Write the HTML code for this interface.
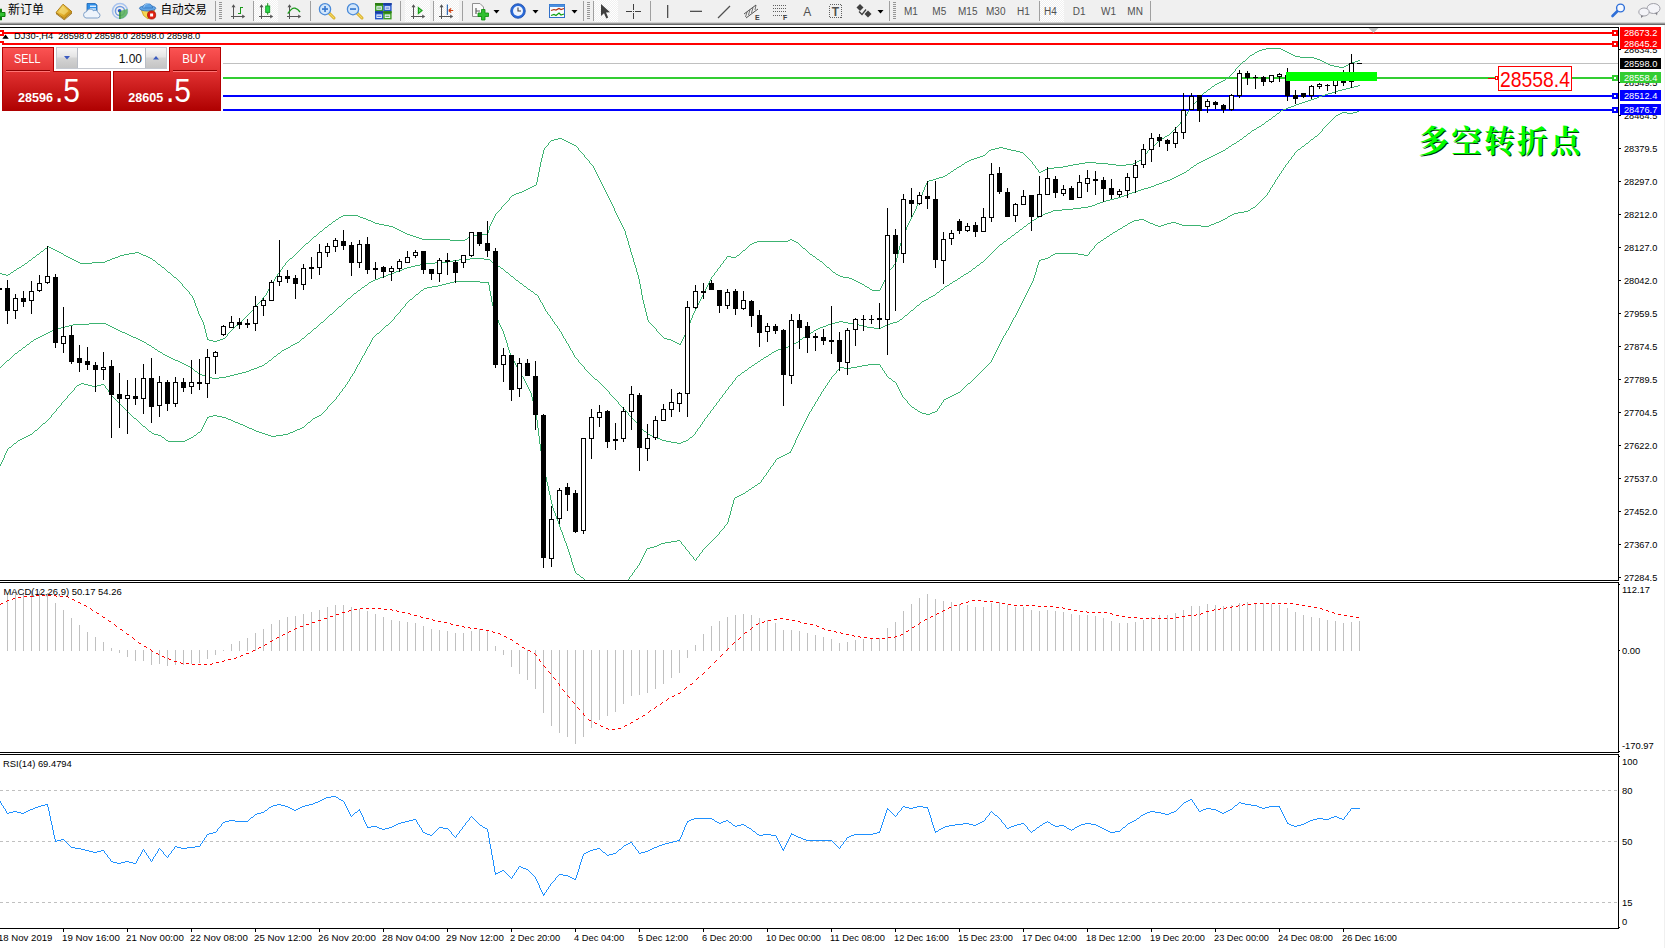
<!DOCTYPE html>
<html><head><meta charset="utf-8"><title>DJ30-,H4</title>
<style>
html,body{margin:0;padding:0;background:#fff;width:1665px;height:948px;overflow:hidden}
body{font-family:"Liberation Sans","Noto Sans CJK SC",sans-serif}
</style></head><body>
<svg width="1665" height="948" viewBox="0 0 1665 948" style="position:absolute;left:0;top:0">
<defs>
<clipPath id="cm"><rect x="0" y="28" width="1618" height="552"/></clipPath>
<clipPath id="cmacd"><rect x="0" y="583" width="1618" height="169"/></clipPath>
<clipPath id="crsi"><rect x="0" y="755" width="1618" height="173"/></clipPath>
<linearGradient id="gred" x1="0" y1="0" x2="0" y2="1"><stop offset="0" stop-color="#f65252"/><stop offset="0.38" stop-color="#dc2c2c"/><stop offset="1" stop-color="#b00000"/></linearGradient>
<linearGradient id="gbtn" x1="0" y1="0" x2="0" y2="1"><stop offset="0" stop-color="#f4f4f4"/><stop offset="0.5" stop-color="#dcdcdc"/><stop offset="1" stop-color="#c8c8c8"/></linearGradient>
<linearGradient id="gtb" x1="0" y1="0" x2="0" y2="1"><stop offset="0" stop-color="#f0f0f0"/><stop offset="0.4" stop-color="#a8a8a8"/><stop offset="0.8" stop-color="#686868"/><stop offset="1" stop-color="#686868"/></linearGradient>
<pattern id="hatch" width="2" height="2" patternUnits="userSpaceOnUse"><rect width="2" height="2" fill="#f0f0f0"/><rect width="1" height="1" fill="#ffffff"/><rect x="1" y="1" width="1" height="1" fill="#ffffff"/></pattern>
</defs>
<rect x="0" y="0" width="1665" height="948" fill="#ffffff" />
<g id="toolbar">
<rect x="0" y="0" width="1665" height="22" fill="#f0f0f0" />
<rect x="0" y="22" width="1665" height="3" fill="url(#gtb)" />
<path d="M-3 12.5 H0.5 V9 H1.5 V12.5 H5 V16.5 H1.5 V20 H0.5 V16.5 H-3 Z" fill="#2fc02f" stroke="#0a7a0a" stroke-width="1"/>
<text x="8" y="14.2" font-family="Liberation Sans, Noto Sans CJK SC, sans-serif" font-size="12" fill="#000">新订单</text>
<defs><linearGradient id="ggold" x1="0" y1="0" x2="1" y2="1"><stop offset="0" stop-color="#f8e27a"/><stop offset="0.55" stop-color="#e2ae2a"/><stop offset="1" stop-color="#b47c08"/></linearGradient></defs>
<g><path d="M56 12.6 L64.3 18.9 L72 12 L72 13.6 L64.3 20.3 L56 14 Z" fill="#8a5c06"/><path d="M56.6 13.3 L64.3 19.2 L71.6 12.8" stroke="#f0d890" stroke-width="0.7" fill="none"/><polygon points="63,4.2 72,11.8 64.3,18.7 56,12.5" fill="url(#ggold)" stroke="#a87408" stroke-width="0.9"/><polygon points="62.8,6 68.5,11 64,15 58.6,12" fill="#f9e78c" opacity="0.55"/></g>
<g><path d="M87 3.5 L95 3.5 L97 5 L97 12 L87 12 Z" fill="#2f8fe8" stroke="#1b62b0" stroke-width="0.8"/><rect x="90" y="5.5" width="6" height="1.5" fill="#d8ecff"/><rect x="90" y="8.3" width="6" height="1.5" fill="#d8ecff"/><path d="M86 18 a3.2 3.2 0 0 1 0.5 -6.3 a4 4 0 0 1 7 -1 a3 3 0 0 1 4.5 2 a2.7 2.7 0 0 1 -0.5 5.3 Z" fill="#eef4fb" stroke="#7fa0c8" stroke-width="1"/></g>
<g fill="none"><circle cx="120" cy="11" r="7.5" stroke="#a9c4ee" stroke-width="1.6"/><circle cx="120" cy="11" r="4.6" stroke="#6f9be0" stroke-width="1.5"/><path d="M120 11 L120 19 A8 8 0 0 0 127.5 9" fill="#58b058" stroke="none" opacity="0.85"/><circle cx="119.6" cy="10.8" r="1.8" fill="#2a55c8" stroke="none"/><rect x="119.2" y="11" width="1.3" height="8" fill="#2a8a2a" stroke="none"/></g>
<g><path d="M141.2 9.5 L154.6 9.5 L153.2 14 L148 19 L143.6 15.5 Z" fill="#f5d652" stroke="#c89a10" stroke-width="0.8"/><ellipse cx="147.6" cy="8.3" rx="8.2" ry="2.7" fill="#62a6e6" stroke="#2f6fb8" stroke-width="0.8"/><path d="M142.8 8 C142.8 2.2 152.6 2.2 152.6 8 Z" fill="#5aa2e6" stroke="#2f6fb8" stroke-width="0.7"/><path d="M143.8 7.6 C144.2 4 148 3.4 149.5 3.6" stroke="#a8d0f6" stroke-width="1" fill="none"/><circle cx="151.6" cy="15" r="4.1" fill="#e02010" stroke="#9c1000" stroke-width="0.7"/><rect x="150.1" y="13.5" width="3" height="3" fill="#fff"/></g>
<text x="160.5" y="14.2" font-family="Liberation Sans, Noto Sans CJK SC, sans-serif" font-size="12" fill="#000" textLength="46.5" lengthAdjust="spacingAndGlyphs">自动交易</text>
<rect x="215" y="1" width="1" height="20" fill="#a0a0a0" shape-rendering="crispEdges"/>
<rect x="219" y="2" width="3" height="1" fill="#969696" shape-rendering="crispEdges"/>
<rect x="219" y="4" width="3" height="1" fill="#969696" shape-rendering="crispEdges"/>
<rect x="219" y="6" width="3" height="1" fill="#969696" shape-rendering="crispEdges"/>
<rect x="219" y="8" width="3" height="1" fill="#969696" shape-rendering="crispEdges"/>
<rect x="219" y="10" width="3" height="1" fill="#969696" shape-rendering="crispEdges"/>
<rect x="219" y="12" width="3" height="1" fill="#969696" shape-rendering="crispEdges"/>
<rect x="219" y="14" width="3" height="1" fill="#969696" shape-rendering="crispEdges"/>
<rect x="219" y="16" width="3" height="1" fill="#969696" shape-rendering="crispEdges"/>
<rect x="219" y="18" width="3" height="1" fill="#969696" shape-rendering="crispEdges"/>
<g fill="#555555" shape-rendering="crispEdges"><rect x="233" y="6" width="1" height="13"/><rect x="231" y="16" width="13" height="1"/></g><path d="M233.5 4.2 l-2 3 h4 z M245.2 16.5 l-3 -2 v4 z" fill="#555555"/>
<g fill="#189a18" shape-rendering="crispEdges"><rect x="240" y="7" width="1.4" height="7"/><rect x="240" y="7" width="3" height="1.3"/><rect x="237.5" y="12.7" width="3" height="1.3"/></g>
<rect x="253" y="1" width="1" height="20" fill="#a0a0a0" shape-rendering="crispEdges"/>
<rect x="254" y="0" width="24" height="22" fill="url(#hatch)" shape-rendering="crispEdges"/>
<g fill="#555555" shape-rendering="crispEdges"><rect x="261" y="6" width="1" height="13"/><rect x="259" y="16" width="13" height="1"/></g><path d="M261.5 4.2 l-2 3 h4 z M273.2 16.5 l-3 -2 v4 z" fill="#555555"/>
<rect x="267.2" y="3.2" width="1" height="11.5" fill="#1a8a1a"/><rect x="265.7" y="6" width="4" height="6.4" fill="#2cd84a" stroke="#149a24" stroke-width="0.9"/>
<g fill="#555555" shape-rendering="crispEdges"><rect x="289" y="6" width="1" height="13"/><rect x="287" y="16" width="13" height="1"/></g><path d="M289.5 4.2 l-2 3 h4 z M301.2 16.5 l-3 -2 v4 z" fill="#555555"/>
<path d="M287.8 13.6 Q292 7.2 295 8.2 T300 12" stroke="#1a9a1a" stroke-width="1.3" fill="none"/>
<rect x="310" y="1" width="1" height="20" fill="#a0a0a0" shape-rendering="crispEdges"/>
<g><path d="M328.5 12.5 L334 18" stroke="#d4a820" stroke-width="3" stroke-linecap="round"/><path d="M328.5 12.5 L334 18" stroke="#f4d860" stroke-width="1.2" stroke-linecap="round"/><circle cx="325" cy="9.2" r="5.6" fill="#d2e6fb" stroke="#4a8ad8" stroke-width="1.3"/><rect x="322" y="8.2" width="6" height="1.7" fill="#3a7ad0"/><rect x="324.2" y="6" width="1.7" height="6" fill="#3a7ad0"/></g>
<g><path d="M356.5 12.5 L362 18" stroke="#d4a820" stroke-width="3" stroke-linecap="round"/><path d="M356.5 12.5 L362 18" stroke="#f4d860" stroke-width="1.2" stroke-linecap="round"/><circle cx="353" cy="9.2" r="5.6" fill="#d2e6fb" stroke="#4a8ad8" stroke-width="1.3"/><rect x="350" y="8.2" width="6" height="1.7" fill="#3a7ad0"/></g>
<rect x="375" y="3" width="8.3" height="8.2" fill="#3c9c22"/><rect x="375" y="3" width="8.3" height="2" fill="#2c7c14"/><rect x="376.4" y="6.2" width="5.5" height="3.6" fill="#e8f0ff"/><rect x="377.2" y="7.6" width="3.9" height="0.9" fill="#3c9c22"/>
<rect x="383.3" y="3" width="8.3" height="8.2" fill="#2456c8"/><rect x="383.3" y="3" width="8.3" height="2" fill="#1a3ea0"/><rect x="384.7" y="6.2" width="5.5" height="3.6" fill="#e8f0ff"/><rect x="385.5" y="7.6" width="3.9" height="0.9" fill="#2456c8"/>
<rect x="375" y="11.2" width="8.3" height="8.2" fill="#2456c8"/><rect x="375" y="11.2" width="8.3" height="2" fill="#1a3ea0"/><rect x="376.4" y="14.399999999999999" width="5.5" height="3.6" fill="#e8f0ff"/><rect x="377.2" y="15.799999999999999" width="3.9" height="0.9" fill="#2456c8"/>
<rect x="383.3" y="11.2" width="8.3" height="8.2" fill="#3c9c22"/><rect x="383.3" y="11.2" width="8.3" height="2" fill="#2c7c14"/><rect x="384.7" y="14.399999999999999" width="5.5" height="3.6" fill="#e8f0ff"/><rect x="385.5" y="15.799999999999999" width="3.9" height="0.9" fill="#3c9c22"/>
<rect x="400" y="1" width="1" height="20" fill="#a0a0a0" shape-rendering="crispEdges"/>
<rect x="405" y="0" width="25" height="22" fill="url(#hatch)" shape-rendering="crispEdges"/>
<g fill="#555555" shape-rendering="crispEdges"><rect x="413" y="6" width="1" height="13"/><rect x="411" y="16" width="13" height="1"/></g><path d="M413.5 4.2 l-2 3 h4 z M425.2 16.5 l-3 -2 v4 z" fill="#555555"/>
<path d="M418.4 7.6 L422 10.5 L418.4 13.4 Z" fill="#7be07b" stroke="#18a018" stroke-width="1.2"/>
<rect x="433" y="1" width="1" height="20" fill="#a0a0a0" shape-rendering="crispEdges"/>
<rect x="434" y="0" width="25" height="22" fill="url(#hatch)" shape-rendering="crispEdges"/>
<g fill="#555555" shape-rendering="crispEdges"><rect x="441" y="6" width="1" height="13"/><rect x="439" y="16" width="13" height="1"/></g><path d="M441.5 4.2 l-2 3 h4 z M453.2 16.5 l-3 -2 v4 z" fill="#555555"/>
<rect x="446.8" y="4.5" width="1.1" height="10.5" fill="#2060b0"/><path d="M448.6 10.5 h4.6 M448.6 10.5 l2.6 -2 M448.6 10.5 l2.6 2" stroke="#d04010" stroke-width="1.1" fill="none"/>
<rect x="462" y="1" width="1" height="20" fill="#a0a0a0" shape-rendering="crispEdges"/>
<g><path d="M472.5 3.5 H480 L483.5 7 V16.5 H472.5 Z" fill="#fafafa" stroke="#909090" stroke-width="1"/><path d="M476 8 v6 M476 11 h4" stroke="#606060" stroke-width="1.2" fill="none"/><path d="M481.5 9.5 H485 V13 H488.5 V16.5 H485 V20 H481.5 V16.5 H478 V13 H481.5 Z" fill="#2fc02f" stroke="#0a8a0a" stroke-width="0.8"/></g>
<polygon points="493.5,10 499.5,10 496.5,13.5" fill="#000"/>
<g><circle cx="518" cy="11" r="7.3" fill="#2a6ad8" stroke="#1a4aa8" stroke-width="0.8"/><circle cx="518" cy="11" r="5" fill="#eef4ff"/><path d="M518 7.5 V11 H521" stroke="#404040" stroke-width="1.1" fill="none"/></g>
<polygon points="532.5,10 538.5,10 535.5,13.5" fill="#000"/>
<g><rect x="549.5" y="4.5" width="15" height="13" fill="#fafcff" stroke="#2f6fc8" stroke-width="1"/><rect x="549.5" y="4.5" width="15" height="2.5" fill="#4a90e0"/><path d="M551 10.5 l3 -1 l2 .5 l3 -1.5 l2 1 l3 -1" stroke="#b03010" stroke-width="1.2" fill="none"/><path d="M551 15.5 l3 -1 l2 1 l3 -2.5 l2 2 l3 -1" stroke="#10a010" stroke-width="1.2" fill="none"/></g>
<polygon points="571.5,10 577.5,10 574.5,13.5" fill="#000"/>
<rect x="583" y="1" width="1" height="20" fill="#a0a0a0" shape-rendering="crispEdges"/>
<rect x="587" y="2" width="3" height="1" fill="#969696" shape-rendering="crispEdges"/>
<rect x="587" y="4" width="3" height="1" fill="#969696" shape-rendering="crispEdges"/>
<rect x="587" y="6" width="3" height="1" fill="#969696" shape-rendering="crispEdges"/>
<rect x="587" y="8" width="3" height="1" fill="#969696" shape-rendering="crispEdges"/>
<rect x="587" y="10" width="3" height="1" fill="#969696" shape-rendering="crispEdges"/>
<rect x="587" y="12" width="3" height="1" fill="#969696" shape-rendering="crispEdges"/>
<rect x="587" y="14" width="3" height="1" fill="#969696" shape-rendering="crispEdges"/>
<rect x="587" y="16" width="3" height="1" fill="#969696" shape-rendering="crispEdges"/>
<rect x="587" y="18" width="3" height="1" fill="#969696" shape-rendering="crispEdges"/>
<rect x="593" y="1" width="1" height="20" fill="#a0a0a0" shape-rendering="crispEdges"/>
<rect x="594" y="0" width="24" height="22" fill="url(#hatch)" shape-rendering="crispEdges"/>
<path d="M601 4 L601 16 L604 13.2 L606.3 18.5 L608.2 17.6 L606 12.5 L610 12.3 Z" fill="#404040"/>
<g fill="#404040" shape-rendering="crispEdges"><rect x="633" y="4" width="1" height="6"/><rect x="633" y="13" width="1" height="6"/><rect x="626" y="11" width="6" height="1"/><rect x="635" y="11" width="6" height="1"/><rect x="633" y="11" width="1" height="1"/></g>
<rect x="650" y="1" width="1" height="20" fill="#a0a0a0" shape-rendering="crispEdges"/>
<rect x="667" y="5" width="1.3" height="13" fill="#505050"/>
<rect x="690" y="10.7" width="12" height="1.3" fill="#505050"/>
<path d="M718 18 L730 6" stroke="#505050" stroke-width="1.2"/>
<g stroke="#505050" stroke-width="1" fill="none"><path d="M744 14 L756 5 M746 18 L758 9"/><path d="M747 12 l-1.5 5 M750 9.5 l-1.5 5.5 M753 7.5 l-1.5 5.5 M756 5 l-1 5" stroke-width="0.8"/></g>
<text x="755" y="20" font-family="Liberation Sans, Noto Sans CJK SC, sans-serif" font-size="7" font-weight="bold" fill="#404040">E</text>
<line x1="773" y1="5.5" x2="786" y2="5.5" stroke="#606060" stroke-width="1" stroke-dasharray="1 1" shape-rendering="crispEdges"/>
<line x1="773" y1="8.5" x2="786" y2="8.5" stroke="#606060" stroke-width="1" stroke-dasharray="1 1" shape-rendering="crispEdges"/>
<line x1="773" y1="11.5" x2="786" y2="11.5" stroke="#606060" stroke-width="1" stroke-dasharray="1 1" shape-rendering="crispEdges"/>
<line x1="773" y1="15.5" x2="786" y2="15.5" stroke="#606060" stroke-width="1" stroke-dasharray="1 1" shape-rendering="crispEdges"/>
<text x="783" y="20" font-family="Liberation Sans, Noto Sans CJK SC, sans-serif" font-size="7" font-weight="bold" fill="#404040">F</text>
<text x="803.3" y="15.5" font-family="Liberation Sans, Noto Sans CJK SC, sans-serif" font-size="12" fill="#505050">A</text>
<rect x="829.5" y="4.5" width="12" height="13" fill="none" stroke="#606060" stroke-width="1" stroke-dasharray="1 1" shape-rendering="crispEdges"/>
<text x="831.7" y="15.5" font-family="Liberation Sans, Noto Sans CJK SC, sans-serif" font-size="12" font-weight="bold" fill="#505050">T</text>
<g fill="#404040"><path d="M860 5 l3.5 3.5 l-3.5 3.5 l-3.5 -3.5 z" transform="translate(0,-1)"/><path d="M868 12 l3.5 3.5 l-3.5 3.5 l-3.5 -3.5 z" transform="translate(0,-1.5)"/><path d="M859 11.5 l3 3 l4 -5" stroke="#404040" stroke-width="1.3" fill="none"/></g>
<polygon points="877.5,10 883.5,10 880.5,13.5" fill="#000"/>
<rect x="889" y="1" width="1" height="20" fill="#a0a0a0" shape-rendering="crispEdges"/>
<rect x="893" y="2" width="3" height="1" fill="#969696" shape-rendering="crispEdges"/>
<rect x="893" y="4" width="3" height="1" fill="#969696" shape-rendering="crispEdges"/>
<rect x="893" y="6" width="3" height="1" fill="#969696" shape-rendering="crispEdges"/>
<rect x="893" y="8" width="3" height="1" fill="#969696" shape-rendering="crispEdges"/>
<rect x="893" y="10" width="3" height="1" fill="#969696" shape-rendering="crispEdges"/>
<rect x="893" y="12" width="3" height="1" fill="#969696" shape-rendering="crispEdges"/>
<rect x="893" y="14" width="3" height="1" fill="#969696" shape-rendering="crispEdges"/>
<rect x="893" y="16" width="3" height="1" fill="#969696" shape-rendering="crispEdges"/>
<rect x="893" y="18" width="3" height="1" fill="#969696" shape-rendering="crispEdges"/>
<rect x="1039" y="1" width="1" height="20" fill="#a0a0a0" shape-rendering="crispEdges"/>
<rect x="1040" y="0" width="24" height="22" fill="url(#hatch)" shape-rendering="crispEdges"/>
<text x="904" y="15" font-family="Liberation Sans, Noto Sans CJK SC, sans-serif" font-size="10" fill="#505050">M1</text>
<text x="932.3" y="15" font-family="Liberation Sans, Noto Sans CJK SC, sans-serif" font-size="10" fill="#505050">M5</text>
<text x="958" y="15" font-family="Liberation Sans, Noto Sans CJK SC, sans-serif" font-size="10" fill="#505050">M15</text>
<text x="986" y="15" font-family="Liberation Sans, Noto Sans CJK SC, sans-serif" font-size="10" fill="#505050">M30</text>
<text x="1017" y="15" font-family="Liberation Sans, Noto Sans CJK SC, sans-serif" font-size="10" fill="#505050">H1</text>
<text x="1044" y="15" font-family="Liberation Sans, Noto Sans CJK SC, sans-serif" font-size="10" fill="#505050">H4</text>
<text x="1072.7" y="15" font-family="Liberation Sans, Noto Sans CJK SC, sans-serif" font-size="10" fill="#505050">D1</text>
<text x="1101" y="15" font-family="Liberation Sans, Noto Sans CJK SC, sans-serif" font-size="10" fill="#505050">W1</text>
<text x="1127.3" y="15" font-family="Liberation Sans, Noto Sans CJK SC, sans-serif" font-size="10" fill="#505050">MN</text>
<rect x="1150" y="1" width="1" height="20" fill="#a0a0a0" shape-rendering="crispEdges"/>
<g><path d="M1612.5 16 L1618 10.5" stroke="#2f6fd8" stroke-width="2.6" stroke-linecap="round"/><circle cx="1620.5" cy="8" r="3.9" fill="#f4f8ff" stroke="#2f6fd8" stroke-width="1.4"/></g>
<g><ellipse cx="1653.5" cy="8.5" rx="6.5" ry="5" fill="#f4f4f8" stroke="#a0a0a8" stroke-width="1"/><path d="M1655 13 l2 2.5 l0.5 -3 z" fill="#808088"/><ellipse cx="1644" cy="12" rx="5.2" ry="4" fill="#f4f4f8" stroke="#a0a0a8" stroke-width="1"/><path d="M1641 15.5 l0 2.5 l2.5 -2 z" fill="#808088"/></g>
</g>
<rect x="1664" y="25" width="1" height="923" fill="#f0f0f0" />
<g shape-rendering="crispEdges">
<rect x="0" y="27" width="1619" height="1" fill="#000" />
<rect x="1618" y="27" width="1" height="554" fill="#000" />
<rect x="0" y="580" width="1619" height="1" fill="#000" />
<rect x="0" y="582" width="1619" height="1" fill="#000" />
<rect x="1618" y="582" width="1" height="171" fill="#000" />
<rect x="0" y="752" width="1619" height="1" fill="#000" />
<rect x="0" y="754" width="1619" height="1" fill="#000" />
<rect x="1618" y="754" width="1" height="175" fill="#000" />
<rect x="0" y="928" width="1619" height="1" fill="#000" />
<g clip-path="url(#cm)">
<rect x="0" y="63" width="1618" height="1" fill="#c0c0c0" />
<rect x="0" y="32" width="1618" height="2" fill="#ff0000" />
<rect x="0" y="43" width="1618" height="2" fill="#ff0000" />
<rect x="0" y="77" width="1618" height="2" fill="#32cd32" />
<rect x="0" y="95" width="1618" height="2" fill="#0000ff" />
<rect x="0" y="109" width="1618" height="2" fill="#0000ff" />
<rect x="1612" y="30" width="6" height="6" fill="#ff0000" />
<rect x="1614" y="32" width="2" height="2" fill="#fff" />
<rect x="-2" y="30" width="6" height="6" fill="#ff0000" />
<rect x="0" y="32" width="2" height="2" fill="#fff" />
<rect x="1612" y="41" width="6" height="6" fill="#ff0000" />
<rect x="1614" y="43" width="2" height="2" fill="#fff" />
<rect x="-2" y="41" width="6" height="6" fill="#ff0000" />
<rect x="0" y="43" width="2" height="2" fill="#fff" />
<rect x="1612" y="75" width="6" height="6" fill="#32cd32" />
<rect x="1614" y="77" width="2" height="2" fill="#fff" />
<rect x="1612" y="93" width="6" height="6" fill="#0000ff" />
<rect x="1614" y="95" width="2" height="2" fill="#fff" />
<rect x="1612" y="107" width="6" height="6" fill="#0000ff" />
<rect x="1614" y="109" width="2" height="2" fill="#fff" />
</g>
</g>
<g clip-path="url(#cm)" shape-rendering="crispEdges">
<path d="M538.5 172v5M207.5 337v3M905.5 230v3M634.5 262v3M637.5 272v3M542.5 154v4M690.5 320v3M896.5 258v4M916.5 206v3M924.5 187v3M640.5 284v5M205.5 329v4M630.5 248v4M633.5 258v4M646.5 312v4M536.5 182v3M636.5 268v4M647.5 316v4M625.5 231v4M489.5 226v4M687.5 327v3M540.5 162v5M919.5 199v3M642.5 295v5M643.5 300v4M194.5 300v3M639.5 279v5M488.5 230v3M898.5 250v4M204.5 325v4M539.5 167v5M641.5 289v6M638.5 275v4M627.5 238v3M644.5 304v4M537.5 177v5M900.5 243v3M626.5 235v3M635.5 265v3M897.5 254v4M195.5 303v3M541.5 158v4M614.5 208v3M922.5 192v3M543.5 150v4M685.5 332v3M206.5 333v4M899.5 246v4M692.5 315v3M632.5 255v3M203.5 322v3M631.5 252v3M903.5 235v3M902.5 238v3M628.5 241v4M906.5 227v3M198.5 311v3M629.5 245v3M197.5 308v3M645.5 308v4M1266 48.5h15M544 148.5h1M578 148.5h1M995 148.5h4M1003 148.5h4M1150 148.5h1M598 177.5h1M939 177.5h4M589 162.5h1M965 162.5h2M1032 162.5h1M1085 162.5h11M1135 162.5h2M257 304.5h1M698 304.5h1M2 274.5h4M8 274.5h2M171 274.5h1M277 274.5h1M714 274.5h1M836 274.5h2M887 274.5h1M336 219.5h2M366 219.5h2M493 219.5h1M619 219.5h1M910 219.5h1M1259 50.5h3M1283 50.5h2M249 313.5h1M693 313.5h1M316 235.5h1M410 235.5h3M471 235.5h8M308 242.5h1M754 242.5h3M796 242.5h2M901 242.5h1M496 213.5h1M616 213.5h1M913 213.5h1M36 255.5h1M64 255.5h2M120 255.5h4M143 255.5h3M294 255.5h1M737 255.5h2M812 255.5h1M32 258.5h1M70 258.5h2M112 258.5h3M150 258.5h2M290 258.5h2M726 258.5h1M816 258.5h1M192 296.5h1M264 296.5h1M702 296.5h1M41 251.5h2M57 251.5h2M298 251.5h1M742 251.5h1M807 251.5h1M47 247.5h1M49 247.5h2M302 247.5h1M747 247.5h1M802 247.5h1M600 180.5h1M929 180.5h4M185 288.5h1M269 288.5h1M706 288.5h1M869 288.5h1M880 288.5h1M1237 67.5h1M1339 67.5h5M25 263.5h2M80 263.5h12M157 263.5h1M285 263.5h1M722 263.5h1M823 263.5h1M895 263.5h1M495 214.5h1M616 214.5h1M913 214.5h1M31 259.5h1M72 259.5h2M110 259.5h2M152 259.5h1M289 259.5h1M725 259.5h1M817 259.5h2M187 290.5h1M268 290.5h1M705 290.5h1M872 290.5h8M1169 134.5h1M586 158.5h1M974 158.5h3M1028 158.5h1M1142 158.5h1M343 215.5h15M495 215.5h1M617 215.5h1M912 215.5h1M40 252.5h1M59 252.5h2M135 252.5h4M297 252.5h1M741 252.5h1M808 252.5h1M587 159.5h1M971 159.5h3M1029 159.5h1M1141 159.5h1M229 332.5h1M658 332.5h1M580 151.5h1M988 151.5h1M1016 151.5h4M1147 151.5h1M191 295.5h1M265 295.5h1M702 295.5h1M1204 92.5h2M548 144.5h1M572 144.5h2M1155 144.5h1M551 140.5h3M564 140.5h2M1160 140.5h1M228 333.5h1M659 333.5h1M39 253.5h1M61 253.5h2M129 253.5h6M139 253.5h2M296 253.5h1M740 253.5h1M809 253.5h1M19 267.5h2M162 267.5h2M282 267.5h1M719 267.5h1M827 267.5h2M892 267.5h1M1243 61.5h2M1322 61.5h2M1355 61.5h3M1181 121.5h1M589 161.5h1M967 161.5h2M1031 161.5h1M1137 161.5h2M33 257.5h2M68 257.5h2M115 257.5h3M148 257.5h2M292 257.5h1M726 257.5h1M731 257.5h5M815 257.5h1M534 185.5h2M602 185.5h1M925 185.5h1M0 273.5h2M10 273.5h1M170 273.5h1M278 273.5h1M714 273.5h1M835 273.5h1M888 273.5h1M310 240.5h1M450 240.5h15M788 240.5h2M792 240.5h2M1239 65.5h1M1330 65.5h4M1346 65.5h2M261 300.5h1M700 300.5h1M181 283.5h1M272 283.5h1M708 283.5h1M860 283.5h2M883 283.5h1M590 163.5h1M964 163.5h1M1032 163.5h1M1079 163.5h6M1096 163.5h12M1133 163.5h2M1242 62.5h1M1324 62.5h2M1352 62.5h3M331 223.5h1M375 223.5h4M491 223.5h1M621 223.5h1M908 223.5h1M1247 58.5h1M1314 58.5h3M196 306.5h1M256 306.5h1M697 306.5h1M317 234.5h1M407 234.5h3M479 234.5h9M904 234.5h1M1212 86.5h2M312 238.5h1M419 238.5h3M467 238.5h1M313 237.5h1M416 237.5h3M468 237.5h1M223 338.5h2M664 338.5h3M683 338.5h1M323 229.5h1M397 229.5h2M624 229.5h1M239 323.5h1M650 323.5h1M689 323.5h1M582 153.5h1M986 153.5h1M1023 153.5h1M1146 153.5h1M192 297.5h1M263 297.5h1M701 297.5h1M199 315.5h1M247 315.5h1M173 276.5h1M276 276.5h1M712 276.5h1M840 276.5h3M886 276.5h1M208 339.5h1M220 339.5h3M667 339.5h4M682 339.5h1M594 168.5h1M956 168.5h1M1036 168.5h1M1047 168.5h7M516 193.5h3M606 193.5h1M329 224.5h2M379 224.5h5M490 224.5h1M621 224.5h1M908 224.5h1M311 239.5h1M422 239.5h28M465 239.5h2M790 239.5h2M28 261.5h1M76 261.5h2M105 261.5h2M155 261.5h1M287 261.5h1M723 261.5h1M820 261.5h2M583 154.5h1M985 154.5h1M1024 154.5h1M1145 154.5h1M512 195.5h2M607 195.5h1M921 195.5h1M545 147.5h1M577 147.5h1M999 147.5h4M1151 147.5h1M592 165.5h1M961 165.5h1M1034 165.5h1M1068 165.5h5M1116 165.5h10M595 171.5h1M951 171.5h2M1038 171.5h1M1041 171.5h2M186 289.5h1M268 289.5h1M705 289.5h1M870 289.5h2M880 289.5h1M1248 57.5h1M1300 57.5h14M16 269.5h1M165 269.5h1M281 269.5h1M717 269.5h1M830 269.5h1M890 269.5h1M338 218.5h1M363 218.5h3M493 218.5h1M618 218.5h1M911 218.5h1M227 335.5h1M661 335.5h1M684 335.5h1M13 271.5h1M167 271.5h1M280 271.5h1M716 271.5h1M832 271.5h1M889 271.5h1M600 181.5h1M927 181.5h2M1223 80.5h2M174 277.5h2M275 277.5h1M711 277.5h1M843 277.5h6M886 277.5h1M532 186.5h2M603 186.5h1M925 186.5h1M1219 82.5h2M1195 102.5h1M252 310.5h1M695 310.5h1M579 150.5h1M989 150.5h2M1011 150.5h5M1148 150.5h1M599 179.5h1M933 179.5h3M179 281.5h1M273 281.5h1M709 281.5h1M856 281.5h2M884 281.5h1M182 284.5h1M271 284.5h1M708 284.5h1M862 284.5h2M882 284.5h1M45 248.5h2M51 248.5h2M301 248.5h1M746 248.5h1M803 248.5h2M505 203.5h1M611 203.5h1M918 203.5h1M593 167.5h1M957 167.5h2M1035 167.5h1M1054 167.5h9M1192 105.5h1M43 250.5h1M55 250.5h2M299 250.5h1M743 250.5h2M806 250.5h1M544 149.5h1M578 149.5h1M991 149.5h4M1007 149.5h4M1149 149.5h1M594 169.5h1M954 169.5h2M1037 169.5h1M1045 169.5h2M548 143.5h1M570 143.5h2M1156 143.5h1M180 282.5h1M273 282.5h1M709 282.5h1M858 282.5h2M883 282.5h1M227 334.5h1M660 334.5h1M319 232.5h1M403 232.5h2M177 279.5h1M274 279.5h1M710 279.5h1M852 279.5h2M885 279.5h1M201 318.5h1M244 318.5h1M691 318.5h1M596 173.5h1M948 173.5h2M318 233.5h1M405 233.5h2M487 233.5h1M904 233.5h1M1198 98.5h1M1183 118.5h1M178 280.5h1M274 280.5h1M710 280.5h1M854 280.5h2M884 280.5h1M1240 64.5h1M1328 64.5h2M1348 64.5h2M230 331.5h1M657 331.5h1M686 331.5h1M35 256.5h1M66 256.5h2M118 256.5h2M146 256.5h2M293 256.5h1M727 256.5h4M736 256.5h1M813 256.5h2M599 178.5h1M936 178.5h3M1245 60.5h1M1320 60.5h2M1358 60.5h2M184 287.5h1M270 287.5h1M706 287.5h1M867 287.5h2M881 287.5h1M332 222.5h1M373 222.5h2M491 222.5h1M620 222.5h1M909 222.5h1M309 241.5h1M757 241.5h31M794 241.5h2M901 241.5h1M250 312.5h1M694 312.5h1M305 244.5h1M750 244.5h2M799 244.5h1M17 268.5h2M164 268.5h1M282 268.5h1M718 268.5h1M829 268.5h1M891 268.5h1M183 286.5h1M270 286.5h1M707 286.5h1M865 286.5h2M881 286.5h1M22 265.5h2M160 265.5h1M284 265.5h1M720 265.5h1M825 265.5h1M893 265.5h1M1170 133.5h1M591 164.5h1M962 164.5h2M1033 164.5h1M1073 164.5h6M1108 164.5h8M1126 164.5h7M1186 114.5h1M322 230.5h1M399 230.5h2M624 230.5h1M314 236.5h2M413 236.5h3M469 236.5h2M189 293.5h1M266 293.5h1M703 293.5h1M37 254.5h2M63 254.5h1M124 254.5h5M141 254.5h2M295 254.5h1M739 254.5h1M810 254.5h2M526 189.5h2M604 189.5h1M503 205.5h1M612 205.5h1M917 205.5h1M202 321.5h1M241 321.5h1M648 321.5h1M6 275.5h2M172 275.5h1M277 275.5h1M713 275.5h1M838 275.5h2M887 275.5h1M502 206.5h1M613 206.5h1M213 341.5h4M673 341.5h2M681 341.5h1M1249 56.5h1M1295 56.5h5M199 314.5h1M248 314.5h1M693 314.5h1M193 298.5h1M262 298.5h1M701 298.5h1M584 156.5h1M980 156.5h3M1026 156.5h1M1143 156.5h1M1254 53.5h1M1289 53.5h2M507 201.5h1M610 201.5h1M320 231.5h2M401 231.5h2M595 170.5h1M953 170.5h1M1038 170.5h1M1043 170.5h2M209 340.5h4M217 340.5h3M671 340.5h2M682 340.5h1M260 301.5h1M699 301.5h1M546 146.5h1M576 146.5h1M1152 146.5h2M341 216.5h2M358 216.5h2M494 216.5h1M617 216.5h1M912 216.5h1M24 264.5h1M158 264.5h2M285 264.5h1M721 264.5h1M824 264.5h1M894 264.5h1M182 285.5h1M271 285.5h1M707 285.5h1M864 285.5h1M882 285.5h1M339 217.5h2M360 217.5h3M494 217.5h1M618 217.5h1M911 217.5h1M27 262.5h1M78 262.5h2M92 262.5h13M156 262.5h1M286 262.5h1M723 262.5h1M822 262.5h1M895 262.5h1M14 270.5h2M166 270.5h1M280 270.5h1M717 270.5h1M831 270.5h1M889 270.5h1M1241 63.5h1M1326 63.5h2M1350 63.5h2M509 198.5h1M609 198.5h1M920 198.5h1M549 142.5h1M568 142.5h2M1157 142.5h1M333 221.5h2M371 221.5h2M492 221.5h1M620 221.5h1M909 221.5h1M506 202.5h1M611 202.5h1M918 202.5h1M48 246.5h1M303 246.5h1M748 246.5h1M801 246.5h1M325 227.5h2M393 227.5h2M623 227.5h1M21 266.5h1M161 266.5h1M283 266.5h1M720 266.5h1M826 266.5h1M893 266.5h1M554 139.5h4M562 139.5h2M1161 139.5h1M328 225.5h1M384 225.5h5M490 225.5h1M622 225.5h1M907 225.5h1M596 172.5h1M950 172.5h1M1039 172.5h2M11 272.5h2M168 272.5h2M279 272.5h1M715 272.5h1M833 272.5h2M888 272.5h1M1221 81.5h2M327 226.5h1M389 226.5h4M622 226.5h1M907 226.5h1M176 278.5h1M275 278.5h1M711 278.5h1M849 278.5h3M885 278.5h1M1176 127.5h1M1191 106.5h1M601 182.5h1M927 182.5h1M306 243.5h2M752 243.5h2M798 243.5h1M225 337.5h1M663 337.5h1M683 337.5h1M1230 75.5h1M1167 135.5h2M1187 113.5h1M501 208.5h1M1174 129.5h1M254 308.5h1M696 308.5h1M584 155.5h1M983 155.5h2M1025 155.5h1M1144 155.5h1M602 184.5h1M926 184.5h1M581 152.5h1M987 152.5h1M1020 152.5h3M1147 152.5h1M558 138.5h4M1162 138.5h2M593 166.5h1M959 166.5h2M1035 166.5h1M1063 166.5h5M519 192.5h3M606 192.5h1M514 194.5h2M607 194.5h1M547 145.5h1M574 145.5h2M1154 145.5h1M29 260.5h2M74 260.5h2M107 260.5h3M153 260.5h2M288 260.5h1M724 260.5h1M819 260.5h1M335 220.5h1M368 220.5h3M492 220.5h1M619 220.5h1M910 220.5h1M44 249.5h1M53 249.5h2M300 249.5h1M745 249.5h1M805 249.5h1M238 324.5h1M651 324.5h1M689 324.5h1M530 187.5h2M603 187.5h1M324 228.5h1M395 228.5h2M623 228.5h1M510 197.5h1M608 197.5h1M920 197.5h1M256 305.5h1M697 305.5h1M1246 59.5h1M1317 59.5h3M550 141.5h1M566 141.5h2M1158 141.5h2M1238 66.5h1M1334 66.5h5M1344 66.5h2M1250 55.5h2M1293 55.5h2M528 188.5h2M604 188.5h1M196 307.5h1M255 307.5h1M696 307.5h1M235 326.5h1M653 326.5h1M688 326.5h1M1257 51.5h2M1285 51.5h2M232 329.5h1M656 329.5h1M1187 112.5h1M1203 93.5h1M201 319.5h1M243 319.5h1M691 319.5h1M1183 119.5h1M597 175.5h1M945 175.5h2M501 207.5h1M613 207.5h1M524 190.5h2M605 190.5h1M923 190.5h1M1180 122.5h1M1175 128.5h1M1211 87.5h1M601 183.5h1M926 183.5h1M499 210.5h1M915 210.5h1M1186 115.5h1M508 200.5h1M610 200.5h1M1229 76.5h1M200 316.5h1M246 316.5h1M190 294.5h1M266 294.5h1M703 294.5h1M588 160.5h1M969 160.5h2M1030 160.5h1M1139 160.5h2M500 209.5h1M915 209.5h1M258 303.5h1M698 303.5h1M253 309.5h1M695 309.5h1M1233 72.5h1M193 299.5h1M262 299.5h1M700 299.5h1M497 212.5h1M615 212.5h1M914 212.5h1M598 176.5h1M943 176.5h2M226 336.5h1M662 336.5h1M684 336.5h1M1197 99.5h1M504 204.5h1M612 204.5h1M917 204.5h1M597 174.5h1M947 174.5h1M1228 77.5h1M304 245.5h1M749 245.5h1M800 245.5h1M240 322.5h1M649 322.5h1M1196 101.5h1M522 191.5h2M605 191.5h1M923 191.5h1M511 196.5h1M608 196.5h1M921 196.5h1M1235 70.5h1M585 157.5h1M977 157.5h3M1027 157.5h1M1143 157.5h1M1226 78.5h2M1210 88.5h1M498 211.5h1M615 211.5h1M914 211.5h1M202 320.5h1M242 320.5h1M648 320.5h1M1252 54.5h2M1291 54.5h2M1262 49.5h4M1281 49.5h2M233 328.5h1M655 328.5h1M1255 52.5h2M1287 52.5h2M1190 108.5h1M1165 136.5h2M1235 69.5h1M1173 130.5h1M675 342.5h2M681 342.5h1M1200 96.5h1M259 302.5h1M699 302.5h1M1180 123.5h1M1234 71.5h1M251 311.5h1M694 311.5h1M1207 90.5h1M188 291.5h1M267 291.5h1M704 291.5h1M189 292.5h1M267 292.5h1M704 292.5h1M236 325.5h2M652 325.5h1M688 325.5h1M1215 84.5h2M200 317.5h1M245 317.5h1M1217 83.5h2M1190 107.5h1M1202 94.5h1M1197 100.5h1M1194 103.5h1M1189 109.5h1M677 343.5h2M680 343.5h1M1185 116.5h1M1172 131.5h1M1188 111.5h1M1208 89.5h2M1179 124.5h1M509 199.5h1M609 199.5h1M1214 85.5h1M1201 95.5h1M1225 79.5h1M1178 125.5h1M1193 104.5h1M1232 73.5h1M1184 117.5h1M679 344.5h2M1164 137.5h1M231 330.5h1M656 330.5h1M686 330.5h1M234 327.5h1M654 327.5h1M1189 110.5h1M1206 91.5h1M1182 120.5h1M1177 126.5h1M1236 68.5h1M1231 74.5h1M1199 97.5h1M1171 132.5h1" stroke="#3cb371" stroke-width="1" fill="none" />
<path d="M89 323.5h17M320 323.5h1M554 323.5h1M831 323.5h4M848 323.5h5M890 323.5h3M1129 193.5h3M1322 95.5h3M212 378.5h7M594 378.5h1M735 378.5h1M193 369.5h1M251 369.5h3M585 369.5h1M747 369.5h1M1187 170.5h2M48 332.5h2M122 332.5h3M310 332.5h1M561 332.5h1M811 332.5h2M334 311.5h1M546 311.5h1M910 311.5h1M453 260.5h6M490 260.5h1M984 260.5h1M17 352.5h1M160 352.5h2M280 352.5h1M572 352.5h1M772 352.5h2M641 428.5h1M698 428.5h1M321 322.5h2M554 322.5h1M835 322.5h4M843 322.5h5M893 322.5h4M11 357.5h1M169 357.5h2M273 357.5h1M575 357.5h1M764 357.5h2M420 264.5h4M494 264.5h2M979 264.5h1M352 295.5h1M537 295.5h1M933 295.5h2M1234 143.5h2M1281 110.5h2M1118 197.5h3M5 362.5h1M180 362.5h2M267 362.5h1M579 362.5h1M757 362.5h1M200 374.5h2M234 374.5h4M590 374.5h1M740 374.5h1M1199 162.5h2M619 404.5h1M716 404.5h1M69 325.5h4M108 325.5h2M318 325.5h1M556 325.5h1M826 325.5h2M859 325.5h4M885 325.5h2M648 434.5h2M694 434.5h1M14 354.5h1M163 354.5h2M277 354.5h1M573 354.5h1M769 354.5h2M61 327.5h4M112 327.5h2M316 327.5h1M557 327.5h1M820 327.5h3M867 327.5h7M881 327.5h2M1106 200.5h4M209 377.5h3M219 377.5h7M593 377.5h1M736 377.5h1M991 253.5h1M1325 94.5h3M470 258.5h14M986 258.5h1M1164 181.5h3M1062 209.5h11M38 337.5h2M133 337.5h3M304 337.5h1M563 337.5h1M803 337.5h2M15 353.5h2M162 353.5h1M278 353.5h2M573 353.5h1M771 353.5h1M324 320.5h1M552 320.5h1M899 320.5h1M1159 183.5h3M368 283.5h1M520 283.5h2M950 283.5h2M424 263.5h11M493 263.5h1M980 263.5h1M65 326.5h4M110 326.5h2M317 326.5h1M557 326.5h1M823 326.5h3M863 326.5h4M883 326.5h2M1259 126.5h2M1283 109.5h3M1314 98.5h3M603 386.5h1M729 386.5h1M1232 144.5h2M1114 198.5h4M625 410.5h1M711 410.5h1M54 329.5h3M116 329.5h2M313 329.5h1M559 329.5h1M816 329.5h2M1148 187.5h3M1180 174.5h2M626 411.5h1M710 411.5h1M361 288.5h1M527 288.5h1M943 288.5h1M202 375.5h3M230 375.5h4M591 375.5h1M738 375.5h2M23 347.5h2M152 347.5h2M288 347.5h2M569 347.5h1M786 347.5h2M995 249.5h1M399 270.5h3M504 270.5h1M971 270.5h1M347 299.5h1M539 299.5h1M926 299.5h2M369 282.5h2M519 282.5h1M952 282.5h1M435 262.5h12M492 262.5h1M981 262.5h2M1268 120.5h1M339 306.5h2M543 306.5h1M916 306.5h1M1092 205.5h3M1151 186.5h3M9 359.5h1M173 359.5h2M271 359.5h1M577 359.5h1M761 359.5h2M599 382.5h1M732 382.5h1M1002 243.5h1M617 401.5h1M718 401.5h1M1024 226.5h2M1305 101.5h3M447 261.5h6M491 261.5h1M983 261.5h1M73 324.5h16M106 324.5h2M319 324.5h1M555 324.5h1M828 324.5h3M853 324.5h6M887 324.5h3M21 349.5h1M155 349.5h2M284 349.5h2M570 349.5h1M778 349.5h4M31 341.5h2M142 341.5h2M299 341.5h1M566 341.5h1M798 341.5h1M346 300.5h1M540 300.5h1M924 300.5h2M1138 190.5h3M22 348.5h1M154 348.5h1M286 348.5h2M570 348.5h1M782 348.5h4M365 285.5h2M523 285.5h1M947 285.5h2M27 344.5h2M147 344.5h2M293 344.5h2M568 344.5h1M792 344.5h2M46 333.5h2M125 333.5h2M308 333.5h2M561 333.5h1M809 333.5h2M33 340.5h1M140 340.5h2M300 340.5h1M565 340.5h1M799 340.5h1M40 336.5h2M131 336.5h2M305 336.5h1M563 336.5h1M805 336.5h1M330 314.5h2M548 314.5h1M907 314.5h1M44 334.5h2M127 334.5h2M307 334.5h1M562 334.5h1M808 334.5h1M1032 220.5h2M34 339.5h2M138 339.5h2M301 339.5h1M565 339.5h1M800 339.5h2M1190 168.5h1M614 398.5h1M720 398.5h1M1010 237.5h1M1124 195.5h3M638 425.5h1M700 425.5h1M459 259.5h11M484 259.5h6M985 259.5h1M1346 88.5h4M1051 211.5h2M353 294.5h1M535 294.5h2M935 294.5h1M404 268.5h3M501 268.5h2M973 268.5h2M1335 91.5h3M628 413.5h1M709 413.5h1M1273 116.5h2M325 319.5h1M552 319.5h1M900 319.5h2M662 440.5h4M686 440.5h2M1170 179.5h2M1291 106.5h3M1008 238.5h2M18 351.5h1M158 351.5h2M281 351.5h1M572 351.5h1M774 351.5h2M1350 87.5h4M597 380.5h1M734 380.5h1M1053 210.5h9M640 427.5h1M699 427.5h1M194 370.5h1M249 370.5h2M586 370.5h1M745 370.5h2M378 278.5h2M514 278.5h1M958 278.5h2M26 345.5h1M149 345.5h2M291 345.5h2M568 345.5h1M790 345.5h2M6 361.5h1M178 361.5h2M268 361.5h1M578 361.5h1M758 361.5h2M19 350.5h2M157 350.5h1M282 350.5h2M571 350.5h1M776 350.5h2M1043 214.5h2M411 266.5h4M498 266.5h2M976 266.5h1M1103 201.5h3M327 317.5h1M550 317.5h1M903 317.5h1M1039 216.5h2M1215 154.5h2M25 346.5h1M151 346.5h1M290 346.5h1M569 346.5h1M788 346.5h2M323 321.5h1M553 321.5h1M839 321.5h4M897 321.5h2M338 307.5h1M544 307.5h1M915 307.5h1M677 443.5h4M13 355.5h1M165 355.5h2M276 355.5h1M574 355.5h1M768 355.5h1M205 376.5h4M226 376.5h4M592 376.5h1M737 376.5h1M36 338.5h2M136 338.5h2M302 338.5h2M564 338.5h1M802 338.5h1M358 290.5h2M530 290.5h1M940 290.5h1M373 280.5h2M516 280.5h2M955 280.5h2M198 373.5h2M238 373.5h4M589 373.5h1M741 373.5h1M2 365.5h1M186 365.5h2M262 365.5h2M582 365.5h1M752 365.5h2M350 297.5h1M538 297.5h1M929 297.5h2M629 415.5h1M707 415.5h1M4 363.5h1M182 363.5h2M265 363.5h2M580 363.5h1M755 363.5h2M630 416.5h1M707 416.5h1M343 303.5h1M542 303.5h1M920 303.5h1M332 313.5h1M547 313.5h1M908 313.5h1M57 328.5h4M114 328.5h2M314 328.5h2M558 328.5h1M818 328.5h2M874 328.5h7M52 330.5h2M118 330.5h2M312 330.5h1M559 330.5h1M814 330.5h2M367 284.5h1M522 284.5h1M949 284.5h1M388 274.5h3M509 274.5h1M964 274.5h2M396 271.5h3M505 271.5h1M969 271.5h2M1265 122.5h1M987 257.5h1M1242 138.5h1M1095 204.5h2M1182 173.5h2M1088 206.5h4M600 383.5h1M732 383.5h1M1003 242.5h1M1178 175.5h2M605 388.5h1M728 388.5h1M1081 207.5h7M336 309.5h1M545 309.5h1M913 309.5h1M1203 160.5h2M1302 102.5h3M1135 191.5h3M608 391.5h1M725 391.5h1M0 367.5h1M190 367.5h1M257 367.5h2M584 367.5h1M749 367.5h2M344 302.5h1M541 302.5h1M921 302.5h1M1266 121.5h2M601 384.5h1M731 384.5h1M671 442.5h6M681 442.5h2M606 389.5h1M727 389.5h1M1000 244.5h2M595 379.5h2M735 379.5h1M1205 159.5h2M383 276.5h3M511 276.5h2M961 276.5h2M632 418.5h1M705 418.5h1M1223 150.5h2M1 366.5h1M188 366.5h2M259 366.5h3M583 366.5h1M751 366.5h1M1275 115.5h1M634 420.5h1M704 420.5h1M1189 169.5h1M615 399.5h1M719 399.5h1M351 296.5h1M538 296.5h1M931 296.5h2M623 408.5h1M713 408.5h1M647 433.5h1M695 433.5h1M624 409.5h1M712 409.5h1M328 316.5h1M550 316.5h1M904 316.5h1M407 267.5h4M500 267.5h1M975 267.5h1M1197 163.5h2M1016 232.5h2M50 331.5h2M120 331.5h2M311 331.5h1M560 331.5h1M813 331.5h1M666 441.5h5M683 441.5h3M1156 184.5h3M42 335.5h2M129 335.5h2M306 335.5h1M562 335.5h1M806 335.5h2M191 368.5h2M254 368.5h3M584 368.5h1M748 368.5h1M360 289.5h1M528 289.5h2M941 289.5h2M375 279.5h3M515 279.5h1M957 279.5h1M1257 127.5h2M609 392.5h1M725 392.5h1M996 248.5h1M1041 215.5h2M329 315.5h1M549 315.5h1M905 315.5h2M1213 155.5h2M337 308.5h1M544 308.5h1M914 308.5h1M12 356.5h1M167 356.5h2M274 356.5h2M574 356.5h1M766 356.5h2M598 381.5h1M733 381.5h1M1073 208.5h8M613 397.5h1M721 397.5h1M1354 86.5h4M386 275.5h2M510 275.5h1M963 275.5h1M1264 123.5h1M1240 139.5h2M1288 107.5h3M1342 89.5h4M610 394.5h1M723 394.5h1M1248 133.5h2M1110 199.5h4M1225 149.5h1M1332 92.5h3M1272 117.5h1M633 419.5h1M704 419.5h1M1167 180.5h3M1186 171.5h1M639 426.5h1M700 426.5h1M1006 240.5h1M602 385.5h1M730 385.5h1M620 405.5h1M715 405.5h1M195 371.5h2M246 371.5h3M587 371.5h1M744 371.5h1M628 414.5h1M708 414.5h1M345 301.5h1M540 301.5h1M922 301.5h2M1194 165.5h2M1100 202.5h3M635 421.5h1M703 421.5h1M10 358.5h1M171 358.5h2M272 358.5h1M576 358.5h1M763 358.5h1M3 364.5h1M184 364.5h2M264 364.5h1M581 364.5h1M754 364.5h1M1231 145.5h1M1277 113.5h2M357 291.5h1M531 291.5h2M939 291.5h1M371 281.5h2M518 281.5h1M953 281.5h2M1308 100.5h3M1254 129.5h2M7 360.5h2M175 360.5h3M269 360.5h2M578 360.5h1M760 360.5h1M1174 177.5h2M1141 189.5h3M654 437.5h3M690 437.5h2M1196 164.5h1M988 256.5h1M394 272.5h2M506 272.5h2M968 272.5h1M335 310.5h1M545 310.5h1M911 310.5h2M604 387.5h1M728 387.5h1M1023 227.5h1M342 304.5h1M542 304.5h1M919 304.5h1M607 390.5h1M726 390.5h1M341 305.5h1M543 305.5h1M917 305.5h2M1299 103.5h3M992 252.5h1M1132 192.5h3M1358 85.5h2M1031 221.5h1M1237 141.5h2M621 406.5h1M714 406.5h1M1121 196.5h3M999 245.5h1M637 423.5h1M702 423.5h1M362 287.5h2M526 287.5h1M944 287.5h1M402 269.5h2M503 269.5h1M972 269.5h1M1221 151.5h2M415 265.5h5M496 265.5h2M977 265.5h2M197 372.5h1M242 372.5h4M588 372.5h1M742 372.5h2M1271 118.5h1M616 400.5h1M719 400.5h1M1319 96.5h3M1154 185.5h2M1279 112.5h1M1193 166.5h1M1012 235.5h2M1211 156.5h2M660 439.5h2M688 439.5h1M1311 99.5h3M609 393.5h1M724 393.5h1M1176 176.5h2M631 417.5h1M706 417.5h1M1144 188.5h4M1328 93.5h4M356 292.5h1M533 292.5h1M937 292.5h2M364 286.5h1M524 286.5h2M945 286.5h2M1262 124.5h2M333 312.5h1M547 312.5h1M909 312.5h1M1269 119.5h2M1007 239.5h1M1030 222.5h1M1184 172.5h2M622 407.5h1M713 407.5h1M1048 212.5h3M611 395.5h1M722 395.5h1M1015 233.5h1M1097 203.5h3M30 342.5h1M144 342.5h2M297 342.5h2M566 342.5h1M796 342.5h2M29 343.5h1M146 343.5h1M295 343.5h2M567 343.5h1M794 343.5h2M643 430.5h1M697 430.5h1M1256 128.5h1M618 402.5h1M717 402.5h1M657 438.5h3M689 438.5h1M1252 130.5h2M348 298.5h2M539 298.5h1M928 298.5h1M650 435.5h2M693 435.5h1M652 436.5h2M692 436.5h1M1229 146.5h2M354 293.5h2M534 293.5h1M936 293.5h1M1294 105.5h2M1338 90.5h4M636 422.5h1M702 422.5h1M993 251.5h1M1296 104.5h3M326 318.5h1M551 318.5h1M902 318.5h1M1239 140.5h1M1286 108.5h2M997 247.5h1M1219 152.5h2M1247 134.5h1M1027 224.5h1M1244 136.5h2M612 396.5h1M722 396.5h1M642 429.5h1M697 429.5h1M391 273.5h3M508 273.5h1M966 273.5h2M1207 158.5h2M1280 111.5h1M1226 148.5h2M1014 234.5h1M1037 217.5h2M1191 167.5h2M644 431.5h2M696 431.5h1M1022 228.5h1M1236 142.5h1M380 277.5h3M513 277.5h1M960 277.5h1M1020 229.5h2M1201 161.5h2M989 255.5h1M1162 182.5h2M1028 223.5h2M1317 97.5h2M1045 213.5h3M638 424.5h1M701 424.5h1M1246 135.5h1M1036 218.5h1M1011 236.5h1M1034 219.5h2M1209 157.5h2M618 403.5h1M716 403.5h1M1019 230.5h1M998 246.5h1M646 432.5h1M695 432.5h1M1217 153.5h2M1243 137.5h1M1004 241.5h2M627 412.5h1M710 412.5h1M1251 131.5h1M1127 194.5h2M1276 114.5h1M1172 178.5h2M1261 125.5h1M1018 231.5h1M990 254.5h1M1026 225.5h1M994 250.5h1M1228 147.5h1M1250 132.5h1" stroke="#3cb371" stroke-width="1" fill="none" />
<path d="M1037.5 265v3M548.5 486v5M506.5 340v3M507.5 343v4M544.5 467v5M538.5 428v8M558.5 521v3M488.5 282v3M489.5 285v6M733.5 500v4M568.5 549v3M541.5 451v5M571.5 558v4M728.5 518v4M531.5 393v4M533.5 401v4M491.5 296v6M543.5 461v6M563.5 535v3M549.5 491v4M567.5 546v3M536.5 414v6M546.5 477v5M542.5 456v5M730.5 511v4M552.5 504v4M573.5 565v3M562.5 532v3M492.5 302v4M729.5 515v3M537.5 420v8M572.5 562v3M547.5 482v4M1034.5 275v3M534.5 405v5M732.5 504v3M731.5 507v4M497.5 317v3M539.5 436v8M504.5 334v3M490.5 291v5M535.5 410v4M496.5 314v3M503.5 331v3M1036.5 268v4M564.5 538v3M540.5 444v7M550.5 495v5M570.5 555v3M559.5 524v3M532.5 397v4M551.5 500v4M569.5 552v3M795.5 440v3M4.5 455v3M556.5 516v3M1033.5 278v3M493.5 306v3M545.5 472v5M509.5 350v3M553.5 508v3M574.5 568v3M508.5 347v3M566.5 543v3M494.5 309v3M498.5 320v3M505.5 337v3M1035.5 272v3M560.5 527v3M1038.5 262v3M555.5 513v3M62 402.5h1M118 402.5h1M332 402.5h1M815 402.5h1M907 402.5h1M942 402.5h1M40 426.5h1M143 426.5h2M203 426.5h1M245 426.5h2M304 426.5h1M802 426.5h1M76 386.5h1M92 386.5h5M105 386.5h1M345 386.5h1M527 386.5h1M825 386.5h1M897 386.5h1M965 386.5h1M661 543.5h4M681 543.5h1M709 543.5h1M348 381.5h1M525 381.5h1M829 381.5h1M893 381.5h2M971 381.5h1M32 433.5h1M152 433.5h2M197 433.5h1M262 433.5h3M288 433.5h2M799 433.5h1M394 318.5h1M1013 318.5h1M362 357.5h1M512 357.5h1M993 357.5h1M65 399.5h1M115 399.5h1M335 399.5h1M817 399.5h1M905 399.5h1M944 399.5h2M1280 173.5h1M1338 114.5h2M354 371.5h1M519 371.5h1M836 371.5h1M884 371.5h1M981 371.5h1M1290 159.5h1M60 405.5h1M121 405.5h1M329 405.5h1M814 405.5h1M910 405.5h1M940 405.5h1M358 364.5h1M515 364.5h1M868 364.5h12M988 364.5h1M1 463.5h1M773 463.5h1M355 369.5h1M518 369.5h1M838 369.5h1M882 369.5h1M983 369.5h1M69 394.5h1M111 394.5h1M339 394.5h1M820 394.5h1M901 394.5h1M954 394.5h2M364 354.5h1M510 354.5h1M994 354.5h1M454 281.5h26M1032 281.5h1M1132 221.5h2M1146 221.5h2M1219 221.5h2M361 359.5h1M513 359.5h1M992 359.5h1M1251 208.5h2M647 548.5h3M685 548.5h1M704 548.5h1M1342 112.5h5M1353 112.5h4M1302 146.5h2M52 414.5h1M130 414.5h1M321 414.5h1M808 414.5h1M926 414.5h4M63 401.5h1M117 401.5h1M333 401.5h1M816 401.5h1M907 401.5h1M943 401.5h1M644 554.5h1M690 554.5h1M699 554.5h1M590 583.5h2M621 583.5h1M24 437.5h2M162 437.5h2M191 437.5h2M797 437.5h1M50 417.5h1M133 417.5h1M207 417.5h2M222 417.5h4M315 417.5h2M807 417.5h1M47 420.5h1M137 420.5h1M206 420.5h1M231 420.5h2M311 420.5h1M805 420.5h1M1125 225.5h2M1155 225.5h3M1161 225.5h3M1182 225.5h19M1209 225.5h2M1238 212.5h6M46 421.5h1M138 421.5h1M205 421.5h1M233 421.5h2M310 421.5h1M805 421.5h1M446 283.5h4M1031 283.5h1M640 561.5h1M43 423.5h2M140 423.5h1M204 423.5h1M238 423.5h2M307 423.5h1M804 423.5h1M755 485.5h2M1274 182.5h1M1130 222.5h2M1148 222.5h2M1171 222.5h5M1216 222.5h3M636 568.5h1M646 550.5h1M687 550.5h1M702 550.5h1M357 366.5h1M516 366.5h1M857 366.5h5M880 366.5h1M986 366.5h1M0 465.5h1M772 465.5h1M1310 140.5h1M1109 235.5h1M1270 189.5h1M34 431.5h1M149 431.5h2M200 431.5h1M256 431.5h3M293 431.5h2M800 431.5h1M645 552.5h1M689 552.5h1M701 552.5h1M51 416.5h1M132 416.5h1M209 416.5h4M217 416.5h5M317 416.5h2M807 416.5h1M1053 254.5h2M1078 254.5h6M1088 254.5h1M17 441.5h1M168 441.5h17M353 373.5h1M520 373.5h1M835 373.5h1M885 373.5h1M979 373.5h1M67 396.5h1M112 396.5h1M337 396.5h1M819 396.5h1M902 396.5h1M950 396.5h2M49 418.5h1M134 418.5h2M207 418.5h1M226 418.5h2M313 418.5h2M806 418.5h1M642 558.5h1M693 558.5h1M696 558.5h1M398 313.5h1M495 313.5h1M1016 313.5h1M61 403.5h1M119 403.5h1M331 403.5h1M815 403.5h1M908 403.5h1M941 403.5h1M585 580.5h2M626 580.5h2M55 411.5h1M127 411.5h1M324 411.5h1M810 411.5h1M918 411.5h2M935 411.5h2M1123 226.5h2M1158 226.5h3M1201 226.5h8M763 478.5h1M356 367.5h1M517 367.5h1M840 367.5h4M851 367.5h6M881 367.5h1M985 367.5h1M1266 195.5h1M376 334.5h1M1005 334.5h1M349 380.5h1M524 380.5h1M829 380.5h1M892 380.5h1M972 380.5h1M71 392.5h1M109 392.5h1M340 392.5h1M530 392.5h1M821 392.5h1M900 392.5h1M958 392.5h2M77 385.5h2M88 385.5h4M97 385.5h4M104 385.5h1M345 385.5h1M527 385.5h1M826 385.5h1M897 385.5h1M966 385.5h1M639 564.5h1M356 368.5h1M517 368.5h1M839 368.5h1M844 368.5h7M882 368.5h1M984 368.5h1M382 329.5h1M502 329.5h1M1008 329.5h1M56 410.5h1M126 410.5h1M325 410.5h1M811 410.5h1M917 410.5h1M937 410.5h1M1257 204.5h1M20 439.5h2M165 439.5h1M187 439.5h2M796 439.5h1M1311 139.5h2M35 430.5h2M148 430.5h1M201 430.5h1M254 430.5h2M295 430.5h2M800 430.5h1M54 412.5h1M128 412.5h1M323 412.5h1M809 412.5h1M920 412.5h2M932 412.5h3M1227 217.5h1M354 372.5h1M520 372.5h1M836 372.5h1M884 372.5h1M980 372.5h1M51 415.5h1M131 415.5h1M213 415.5h4M319 415.5h2M808 415.5h1M7 449.5h1M791 449.5h1M1324 127.5h1M1269 191.5h1M716 536.5h1M581 577.5h2M629 577.5h1M30 434.5h2M154 434.5h4M196 434.5h1M265 434.5h3M283 434.5h5M798 434.5h1M1264 197.5h1M395 316.5h1M1015 316.5h1M1055 253.5h23M1089 253.5h1M727 523.5h1M399 312.5h1M495 312.5h1M1017 312.5h1M1315 136.5h2M57 408.5h1M124 408.5h1M327 408.5h1M812 408.5h1M914 408.5h1M938 408.5h1M1292 156.5h1M1115 231.5h2M1228 216.5h2M350 378.5h1M523 378.5h1M831 378.5h1M889 378.5h2M974 378.5h1M12 445.5h1M793 445.5h1M14 443.5h2M794 443.5h1M600 589.5h1M610 589.5h2M1331 120.5h1M38 428.5h1M146 428.5h1M202 428.5h1M249 428.5h3M300 428.5h2M801 428.5h1M48 419.5h1M136 419.5h1M206 419.5h1M228 419.5h3M312 419.5h1M806 419.5h1M1093 248.5h1M391 321.5h1M1012 321.5h1M410 299.5h2M1023 299.5h1M6 452.5h1M789 452.5h2M352 374.5h1M521 374.5h1M834 374.5h1M886 374.5h1M978 374.5h1M1128 223.5h2M1150 223.5h3M1167 223.5h4M1176 223.5h3M1214 223.5h2M595 586.5h2M615 586.5h2M61 404.5h1M120 404.5h1M330 404.5h1M814 404.5h1M909 404.5h1M941 404.5h1M438 285.5h4M1030 285.5h1M746 491.5h2M1041 259.5h4M1285 166.5h1M66 398.5h1M114 398.5h1M336 398.5h1M818 398.5h1M904 398.5h1M946 398.5h2M565 541.5h1M671 541.5h6M680 541.5h1M711 541.5h1M362 356.5h1M511 356.5h1M993 356.5h1M1295 152.5h1M385 326.5h1M500 326.5h1M1009 326.5h1M418 293.5h1M1026 293.5h1M74 389.5h1M107 389.5h1M342 389.5h1M529 389.5h1M823 389.5h1M899 389.5h1M962 389.5h1M1100 241.5h1M3 459.5h1M776 459.5h1M384 327.5h1M501 327.5h1M1009 327.5h1M75 387.5h1M105 387.5h1M344 387.5h1M528 387.5h1M825 387.5h1M898 387.5h1M964 387.5h1M39 427.5h1M145 427.5h1M202 427.5h1M247 427.5h2M302 427.5h2M802 427.5h1M386 325.5h2M500 325.5h1M1010 325.5h1M45 422.5h1M139 422.5h1M205 422.5h1M235 422.5h3M308 422.5h2M804 422.5h1M37 429.5h1M147 429.5h1M201 429.5h1M252 429.5h2M297 429.5h3M801 429.5h1M349 379.5h1M524 379.5h1M830 379.5h1M891 379.5h1M973 379.5h1M657 545.5h2M683 545.5h1M707 545.5h1M72 391.5h1M108 391.5h1M341 391.5h1M530 391.5h1M822 391.5h1M900 391.5h1M960 391.5h1M1134 220.5h5M1144 220.5h2M1221 220.5h2M1248 210.5h2M1340 113.5h2M1347 113.5h6M352 375.5h1M521 375.5h1M833 375.5h1M886 375.5h1M977 375.5h1M347 382.5h1M525 382.5h1M828 382.5h1M895 382.5h1M970 382.5h1M79 384.5h2M84 384.5h4M101 384.5h3M346 384.5h1M526 384.5h1M827 384.5h1M896 384.5h1M967 384.5h1M416 294.5h2M1026 294.5h1M1234 213.5h4M64 400.5h1M116 400.5h1M334 400.5h1M817 400.5h1M906 400.5h1M943 400.5h1M1279 174.5h1M1122 227.5h1M3 458.5h1M777 458.5h2M26 436.5h2M161 436.5h1M193 436.5h1M271 436.5h5M797 436.5h1M2 461.5h1M775 461.5h1M412 298.5h1M1024 298.5h1M357 365.5h1M516 365.5h1M862 365.5h6M880 365.5h1M987 365.5h1M33 432.5h1M151 432.5h1M198 432.5h2M259 432.5h3M290 432.5h3M799 432.5h1M1275 181.5h1M68 395.5h1M111 395.5h1M338 395.5h1M820 395.5h1M902 395.5h1M952 395.5h2M56 409.5h1M125 409.5h1M326 409.5h1M811 409.5h1M915 409.5h2M937 409.5h1M67 397.5h1M113 397.5h1M336 397.5h1M818 397.5h1M903 397.5h1M948 397.5h2M642 557.5h1M693 557.5h1M697 557.5h1M768 471.5h1M1106 237.5h1M424 288.5h3M1029 288.5h1M450 282.5h4M480 282.5h8M1032 282.5h1M377 333.5h2M1005 333.5h1M737 496.5h2M22 438.5h2M164 438.5h1M189 438.5h2M796 438.5h1M1258 203.5h1M1051 255.5h2M1084 255.5h4M350 377.5h1M523 377.5h1M831 377.5h1M888 377.5h1M975 377.5h1M1309 141.5h1M402 308.5h1M1019 308.5h1M1107 236.5h2M1269 190.5h1M1325 126.5h1M396 315.5h1M1015 315.5h1M58 407.5h1M123 407.5h1M327 407.5h1M812 407.5h1M912 407.5h2M939 407.5h1M28 435.5h2M158 435.5h3M194 435.5h2M268 435.5h3M276 435.5h7M798 435.5h1M557 519.5h1M584 579.5h1M628 579.5h1M659 544.5h2M682 544.5h1M708 544.5h1M81 383.5h3M347 383.5h1M526 383.5h1M827 383.5h1M896 383.5h1M968 383.5h2M1317 135.5h1M1225 218.5h2M561 531.5h1M720 531.5h1M400 310.5h1M1018 310.5h1M361 358.5h1M512 358.5h1M992 358.5h1M1285 165.5h1M1323 128.5h1M715 537.5h1M6 451.5h1M790 451.5h1M73 390.5h1M108 390.5h1M342 390.5h1M529 390.5h1M823 390.5h1M899 390.5h1M961 390.5h1M403 307.5h1M1019 307.5h1M394 317.5h1M1014 317.5h1M1039 261.5h1M1296 151.5h1M1127 224.5h1M1153 224.5h2M1164 224.5h3M1179 224.5h3M1211 224.5h3M388 324.5h1M499 324.5h1M1010 324.5h1M1092 249.5h1M390 322.5h1M1011 322.5h1M650 547.5h4M685 547.5h1M705 547.5h1M53 413.5h1M129 413.5h1M322 413.5h1M809 413.5h1M922 413.5h4M930 413.5h2M646 549.5h1M686 549.5h1M703 549.5h1M645 551.5h1M688 551.5h1M702 551.5h1M1284 167.5h1M393 319.5h1M1013 319.5h1M1098 242.5h2M2 460.5h1M775 460.5h1M593 585.5h2M617 585.5h2M18 440.5h2M166 440.5h2M185 440.5h2M1232 214.5h2M0 464.5h1M773 464.5h1M408 301.5h1M1022 301.5h1M754 486.5h1M59 406.5h1M122 406.5h1M328 406.5h1M813 406.5h1M911 406.5h1M939 406.5h1M360 361.5h1M514 361.5h1M991 361.5h1M598 588.5h2M612 588.5h1M1283 169.5h1M421 290.5h2M1028 290.5h1M1278 176.5h1M1274 183.5h1M734 498.5h1M383 328.5h1M501 328.5h1M1008 328.5h1M432 286.5h6M1030 286.5h1M370 342.5h1M1000 342.5h1M575 572.5h1M633 572.5h1M375 335.5h1M1004 335.5h1M423 289.5h1M1028 289.5h1M714 538.5h1M366 349.5h1M997 349.5h1M565 542.5h1M665 542.5h6M681 542.5h1M710 542.5h1M735 497.5h2M381 330.5h1M502 330.5h1M1007 330.5h1M760 482.5h1M70 393.5h1M110 393.5h1M339 393.5h1M821 393.5h1M901 393.5h1M956 393.5h2M1139 219.5h5M1223 219.5h2M392 320.5h1M1012 320.5h1M654 546.5h3M684 546.5h1M706 546.5h1M1113 232.5h2M389 323.5h1M499 323.5h1M1011 323.5h1M601 590.5h2M608 590.5h2M442 284.5h4M1031 284.5h1M42 424.5h1M141 424.5h1M204 424.5h1M240 424.5h3M306 424.5h1M803 424.5h1M641 559.5h1M694 559.5h1M696 559.5h1M554 511.5h1M1039 260.5h2M5 453.5h1M787 453.5h2M783 455.5h2M369 344.5h1M999 344.5h1M1336 115.5h2M1289 160.5h1M11 446.5h1M793 446.5h1M719 532.5h1M407 302.5h1M1022 302.5h1M1244 211.5h4M643 556.5h1M692 556.5h1M698 556.5h1M1301 147.5h1M414 296.5h1M1025 296.5h1M1096 244.5h1M592 584.5h1M619 584.5h2M1091 250.5h1M351 376.5h1M522 376.5h1M832 376.5h1M887 376.5h1M976 376.5h1M1288 162.5h1M751 488.5h1M1283 168.5h1M1279 175.5h1M415 295.5h1M1025 295.5h1M638 565.5h1M1256 205.5h1M752 487.5h2M1306 143.5h2M74 388.5h1M106 388.5h1M343 388.5h1M528 388.5h1M824 388.5h1M898 388.5h1M963 388.5h1M1318 134.5h1M1263 198.5h1M641 560.5h1M695 560.5h1M726 524.5h1M761 481.5h1M13 444.5h1M794 444.5h1M561 530.5h1M721 530.5h1M637 567.5h1M1330 121.5h1M576 573.5h1M632 573.5h1M713 539.5h1M557 520.5h1M401 309.5h1M1018 309.5h1M1294 153.5h1M365 351.5h1M996 351.5h1M1328 123.5h1M1090 251.5h1M743 493.5h2M643 555.5h1M691 555.5h1M699 555.5h1M5 454.5h1M785 454.5h2M41 425.5h1M142 425.5h1M203 425.5h1M243 425.5h2M305 425.5h1M803 425.5h1M400 311.5h1M1017 311.5h1M1335 116.5h1M1293 155.5h1M1288 161.5h1M364 353.5h1M510 353.5h1M995 353.5h1M360 360.5h1M513 360.5h1M991 360.5h1M589 582.5h1M622 582.5h2M1300 148.5h1M1281 171.5h1M359 362.5h1M514 362.5h1M990 362.5h1M1277 178.5h1M1253 207.5h2M1050 256.5h1M749 489.5h2M770 467.5h1M1308 142.5h1M766 474.5h1M761 480.5h1M374 336.5h1M1003 336.5h1M734 499.5h1M637 566.5h1M758 483.5h2M1255 206.5h1M405 304.5h1M1021 304.5h1M370 343.5h1M1000 343.5h1M677 540.5h3M712 540.5h1M366 350.5h1M996 350.5h1M764 476.5h1M1267 193.5h1M1322 129.5h1M1262 199.5h1M725 525.5h1M1259 202.5h1M1329 122.5h1M404 306.5h1M1020 306.5h1M369 345.5h1M999 345.5h1M8 448.5h1M792 448.5h1M427 287.5h5M1029 287.5h1M554 512.5h1M575 571.5h1M634 571.5h1M365 352.5h1M995 352.5h1M1321 131.5h1M1097 243.5h1M1230 215.5h2M724 527.5h1M719 533.5h1M1089 252.5h1M1286 164.5h1M7 450.5h1M791 450.5h1M1297 150.5h1M1277 177.5h1M363 355.5h1M511 355.5h1M994 355.5h1M1273 184.5h1M1103 239.5h1M603 591.5h2M606 591.5h2M766 473.5h1M1261 200.5h1M1276 179.5h1M406 303.5h1M1021 303.5h1M1 462.5h1M774 462.5h1M769 469.5h1M1272 186.5h1M1048 257.5h2M355 370.5h1M518 370.5h1M837 370.5h1M883 370.5h1M982 370.5h1M587 581.5h2M624 581.5h2M765 475.5h1M781 456.5h2M1314 137.5h1M757 484.5h1M9 447.5h2M792 447.5h1M405 305.5h1M1020 305.5h1M577 574.5h2M632 574.5h1M718 534.5h1M745 492.5h1M741 494.5h2M1294 154.5h1M724 526.5h1M413 297.5h1M1024 297.5h1M1291 157.5h1M597 587.5h1M613 587.5h2M1282 170.5h1M1120 228.5h2M771 466.5h1M1104 238.5h2M1281 172.5h1M419 292.5h1M1027 292.5h1M359 363.5h1M515 363.5h1M989 363.5h1M372 338.5h1M1002 338.5h1M1272 185.5h1M380 331.5h1M1006 331.5h1M644 553.5h1M689 553.5h1M700 553.5h1M770 468.5h1M579 575.5h1M631 575.5h1M1268 192.5h1M1304 145.5h1M1260 201.5h1M371 340.5h1M1001 340.5h1M1110 234.5h2M1357 111.5h2M634 570.5h1M1271 187.5h1M1327 124.5h1M367 347.5h1M998 347.5h1M1322 130.5h1M580 576.5h1M630 576.5h1M1267 194.5h1M1319 133.5h1M1118 229.5h2M1334 117.5h1M722 529.5h1M717 535.5h1M397 314.5h1M1016 314.5h1M1298 149.5h2M16 442.5h1M1094 247.5h1M1117 230.5h1M748 490.5h1M420 291.5h1M1027 291.5h1M1101 240.5h2M373 337.5h1M1003 337.5h1M1045 258.5h3M1270 188.5h1M1250 209.5h1M763 477.5h1M639 563.5h1M779 457.5h2M727 522.5h1M762 479.5h1M1326 125.5h1M583 578.5h1M629 578.5h1M1094 246.5h1M1333 118.5h1M1291 158.5h1M409 300.5h1M1023 300.5h1M1275 180.5h1M1305 144.5h1M768 470.5h1M605 592.5h1M640 562.5h1M372 339.5h1M1002 339.5h1M635 569.5h1M1313 138.5h1M379 332.5h1M1006 332.5h1M1112 233.5h1M368 346.5h1M998 346.5h1M767 472.5h1M1320 132.5h1M1265 196.5h1M739 495.5h2M723 528.5h1M371 341.5h1M1001 341.5h1M1332 119.5h1M367 348.5h1M997 348.5h1M1095 245.5h1M1287 163.5h1" stroke="#3cb371" stroke-width="1" fill="none" />
</g>
<g>
<text x="1419.4" y="152.8" font-family="Liberation Serif, Noto Serif CJK SC, Noto Sans CJK SC, serif" font-weight="700" font-size="30.5" letter-spacing="2.4" fill="#003800">多空转折点</text>
<text x="1418.4" y="151.8" font-family="Liberation Serif, Noto Serif CJK SC, Noto Sans CJK SC, serif" font-weight="700" font-size="30.5" letter-spacing="2.4" fill="#00ff00">多空转折点</text>
</g>
<g shape-rendering="crispEdges">
<rect x="1498" y="66" width="74" height="25" fill="#ff0000" />
<rect x="1499" y="67" width="72" height="23" fill="#ffffff" />
<rect x="1488" y="78" width="7" height="1" fill="#ff0000" />
<rect x="1495" y="76" width="3" height="4" fill="#ff0000" />
<rect x="1496" y="77" width="1" height="2" fill="#fff" />
</g>
<text x="1500" y="86.8" font-family="Liberation Sans, sans-serif" font-size="22.5" fill="#ff0000" textLength="70" lengthAdjust="spacingAndGlyphs">28558.4</text>
<g clip-path="url(#cm)" shape-rendering="crispEdges">
<rect x="-1" y="286" width="1" height="6" fill="#000" />
<rect x="-3" y="288" width="5" height="2" fill="#000" />
<rect x="7" y="280" width="1" height="44" fill="#000" />
<rect x="5" y="288" width="5" height="23" fill="#000" />
<rect x="15" y="294" width="1" height="25" fill="#000" />
<rect x="13" y="298" width="5" height="13" fill="#000" />
<rect x="14" y="299" width="3" height="11" fill="#fff" />
<rect x="23" y="291" width="1" height="16" fill="#000" />
<rect x="21" y="298" width="5" height="4" fill="#000" />
<rect x="31" y="281" width="1" height="33" fill="#000" />
<rect x="29" y="291" width="5" height="10" fill="#000" />
<rect x="30" y="292" width="3" height="8" fill="#fff" />
<rect x="39" y="275" width="1" height="17" fill="#000" />
<rect x="37" y="283" width="5" height="8" fill="#000" />
<rect x="38" y="284" width="3" height="6" fill="#fff" />
<rect x="47" y="246" width="1" height="38" fill="#000" />
<rect x="45" y="276" width="5" height="7" fill="#000" />
<rect x="46" y="277" width="3" height="5" fill="#fff" />
<rect x="55" y="274" width="1" height="74" fill="#000" />
<rect x="53" y="277" width="5" height="66" fill="#000" />
<rect x="63" y="307" width="1" height="46" fill="#000" />
<rect x="61" y="336" width="5" height="8" fill="#000" />
<rect x="62" y="337" width="3" height="6" fill="#fff" />
<rect x="71" y="326" width="1" height="38" fill="#000" />
<rect x="69" y="335" width="5" height="27" fill="#000" />
<rect x="79" y="345" width="1" height="27" fill="#000" />
<rect x="77" y="358" width="5" height="5" fill="#000" />
<rect x="87" y="347" width="1" height="23" fill="#000" />
<rect x="85" y="361" width="5" height="4" fill="#000" />
<rect x="95" y="362" width="1" height="30" fill="#000" />
<rect x="93" y="365" width="5" height="5" fill="#000" />
<rect x="103" y="352" width="1" height="28" fill="#000" />
<rect x="101" y="367" width="5" height="3" fill="#000" />
<rect x="102" y="368" width="3" height="1" fill="#fff" />
<rect x="111" y="360" width="1" height="78" fill="#000" />
<rect x="109" y="366" width="5" height="29" fill="#000" />
<rect x="119" y="373" width="1" height="55" fill="#000" />
<rect x="117" y="394" width="5" height="5" fill="#000" />
<rect x="127" y="380" width="1" height="54" fill="#000" />
<rect x="125" y="395" width="5" height="4" fill="#000" />
<rect x="126" y="396" width="3" height="2" fill="#fff" />
<rect x="135" y="378" width="1" height="27" fill="#000" />
<rect x="133" y="396" width="5" height="3" fill="#000" />
<rect x="143" y="364" width="1" height="50" fill="#000" />
<rect x="141" y="378" width="5" height="21" fill="#000" />
<rect x="142" y="379" width="3" height="19" fill="#fff" />
<rect x="151" y="358" width="1" height="65" fill="#000" />
<rect x="149" y="378" width="5" height="29" fill="#000" />
<rect x="159" y="376" width="1" height="41" fill="#000" />
<rect x="157" y="382" width="5" height="24" fill="#000" />
<rect x="158" y="383" width="3" height="22" fill="#fff" />
<rect x="167" y="380" width="1" height="31" fill="#000" />
<rect x="165" y="382" width="5" height="22" fill="#000" />
<rect x="175" y="377" width="1" height="30" fill="#000" />
<rect x="173" y="382" width="5" height="22" fill="#000" />
<rect x="174" y="383" width="3" height="20" fill="#fff" />
<rect x="183" y="378" width="1" height="14" fill="#000" />
<rect x="181" y="382" width="5" height="6" fill="#000" />
<rect x="191" y="360" width="1" height="34" fill="#000" />
<rect x="189" y="382" width="5" height="5" fill="#000" />
<rect x="190" y="383" width="3" height="3" fill="#fff" />
<rect x="199" y="359" width="1" height="31" fill="#000" />
<rect x="197" y="382" width="5" height="2" fill="#000" />
<rect x="207" y="349" width="1" height="49" fill="#000" />
<rect x="205" y="357" width="5" height="27" fill="#000" />
<rect x="206" y="358" width="3" height="25" fill="#fff" />
<rect x="215" y="351" width="1" height="23" fill="#000" />
<rect x="213" y="352" width="5" height="5" fill="#000" />
<rect x="214" y="353" width="3" height="3" fill="#fff" />
<rect x="223" y="325" width="1" height="11" fill="#000" />
<rect x="221" y="326" width="5" height="9" fill="#000" />
<rect x="222" y="327" width="3" height="7" fill="#fff" />
<rect x="231" y="316" width="1" height="12" fill="#000" />
<rect x="229" y="322" width="5" height="6" fill="#000" />
<rect x="230" y="323" width="3" height="4" fill="#fff" />
<rect x="239" y="318" width="1" height="11" fill="#000" />
<rect x="237" y="322" width="5" height="3" fill="#000" />
<rect x="247" y="319" width="1" height="9" fill="#000" />
<rect x="245" y="323" width="5" height="2" fill="#000" />
<rect x="255" y="296" width="1" height="35" fill="#000" />
<rect x="253" y="306" width="5" height="18" fill="#000" />
<rect x="254" y="307" width="3" height="16" fill="#fff" />
<rect x="263" y="298" width="1" height="18" fill="#000" />
<rect x="261" y="300" width="5" height="6" fill="#000" />
<rect x="262" y="301" width="3" height="4" fill="#fff" />
<rect x="271" y="280" width="1" height="21" fill="#000" />
<rect x="269" y="282" width="5" height="19" fill="#000" />
<rect x="270" y="283" width="3" height="17" fill="#fff" />
<rect x="279" y="240" width="1" height="46" fill="#000" />
<rect x="277" y="276" width="5" height="6" fill="#000" />
<rect x="278" y="277" width="3" height="4" fill="#fff" />
<rect x="287" y="270" width="1" height="13" fill="#000" />
<rect x="285" y="276" width="5" height="3" fill="#000" />
<rect x="295" y="275" width="1" height="24" fill="#000" />
<rect x="293" y="278" width="5" height="6" fill="#000" />
<rect x="303" y="264" width="1" height="26" fill="#000" />
<rect x="301" y="268" width="5" height="17" fill="#000" />
<rect x="302" y="269" width="3" height="15" fill="#fff" />
<rect x="311" y="257" width="1" height="22" fill="#000" />
<rect x="309" y="267" width="5" height="2" fill="#000" />
<rect x="319" y="244" width="1" height="31" fill="#000" />
<rect x="317" y="252" width="5" height="16" fill="#000" />
<rect x="318" y="253" width="3" height="14" fill="#fff" />
<rect x="327" y="243" width="1" height="14" fill="#000" />
<rect x="325" y="246" width="5" height="7" fill="#000" />
<rect x="326" y="247" width="3" height="5" fill="#fff" />
<rect x="335" y="238" width="1" height="14" fill="#000" />
<rect x="333" y="240" width="5" height="7" fill="#000" />
<rect x="334" y="241" width="3" height="5" fill="#fff" />
<rect x="343" y="230" width="1" height="20" fill="#000" />
<rect x="341" y="241" width="5" height="5" fill="#000" />
<rect x="351" y="242" width="1" height="34" fill="#000" />
<rect x="349" y="245" width="5" height="18" fill="#000" />
<rect x="359" y="240" width="1" height="28" fill="#000" />
<rect x="357" y="244" width="5" height="19" fill="#000" />
<rect x="358" y="245" width="3" height="17" fill="#fff" />
<rect x="367" y="237" width="1" height="37" fill="#000" />
<rect x="365" y="244" width="5" height="26" fill="#000" />
<rect x="375" y="262" width="1" height="17" fill="#000" />
<rect x="373" y="268" width="5" height="2" fill="#000" />
<rect x="383" y="266" width="1" height="12" fill="#000" />
<rect x="381" y="267" width="5" height="5" fill="#000" />
<rect x="391" y="266" width="1" height="15" fill="#000" />
<rect x="389" y="268" width="5" height="4" fill="#000" />
<rect x="390" y="269" width="3" height="2" fill="#fff" />
<rect x="399" y="259" width="1" height="13" fill="#000" />
<rect x="397" y="261" width="5" height="8" fill="#000" />
<rect x="398" y="262" width="3" height="6" fill="#fff" />
<rect x="407" y="251" width="1" height="12" fill="#000" />
<rect x="405" y="257" width="5" height="6" fill="#000" />
<rect x="406" y="258" width="3" height="4" fill="#fff" />
<rect x="415" y="250" width="1" height="8" fill="#000" />
<rect x="413" y="252" width="5" height="4" fill="#000" />
<rect x="414" y="253" width="3" height="2" fill="#fff" />
<rect x="423" y="251" width="1" height="23" fill="#000" />
<rect x="421" y="251" width="5" height="19" fill="#000" />
<rect x="431" y="269" width="1" height="11" fill="#000" />
<rect x="429" y="269" width="5" height="5" fill="#000" />
<rect x="439" y="258" width="1" height="24" fill="#000" />
<rect x="437" y="260" width="5" height="14" fill="#000" />
<rect x="438" y="261" width="3" height="12" fill="#fff" />
<rect x="447" y="253" width="1" height="22" fill="#000" />
<rect x="445" y="260" width="5" height="2" fill="#000" />
<rect x="455" y="260" width="1" height="23" fill="#000" />
<rect x="453" y="262" width="5" height="11" fill="#000" />
<rect x="463" y="255" width="1" height="13" fill="#000" />
<rect x="461" y="255" width="5" height="8" fill="#000" />
<rect x="462" y="256" width="3" height="6" fill="#fff" />
<rect x="471" y="232" width="1" height="25" fill="#000" />
<rect x="469" y="232" width="5" height="24" fill="#000" />
<rect x="470" y="233" width="3" height="22" fill="#fff" />
<rect x="479" y="232" width="1" height="14" fill="#000" />
<rect x="477" y="232" width="5" height="12" fill="#000" />
<rect x="487" y="221" width="1" height="36" fill="#000" />
<rect x="485" y="243" width="5" height="8" fill="#000" />
<rect x="495" y="248" width="1" height="120" fill="#000" />
<rect x="493" y="251" width="5" height="114" fill="#000" />
<rect x="503" y="348" width="1" height="34" fill="#000" />
<rect x="501" y="355" width="5" height="10" fill="#000" />
<rect x="502" y="356" width="3" height="8" fill="#fff" />
<rect x="511" y="355" width="1" height="46" fill="#000" />
<rect x="509" y="355" width="5" height="35" fill="#000" />
<rect x="519" y="358" width="1" height="39" fill="#000" />
<rect x="517" y="363" width="5" height="26" fill="#000" />
<rect x="518" y="364" width="3" height="24" fill="#fff" />
<rect x="527" y="359" width="1" height="17" fill="#000" />
<rect x="525" y="363" width="5" height="13" fill="#000" />
<rect x="535" y="361" width="1" height="69" fill="#000" />
<rect x="533" y="376" width="5" height="39" fill="#000" />
<rect x="543" y="414" width="1" height="154" fill="#000" />
<rect x="541" y="415" width="5" height="143" fill="#000" />
<rect x="551" y="506" width="1" height="61" fill="#000" />
<rect x="549" y="519" width="5" height="40" fill="#000" />
<rect x="550" y="520" width="3" height="38" fill="#fff" />
<rect x="559" y="488" width="1" height="36" fill="#000" />
<rect x="557" y="490" width="5" height="29" fill="#000" />
<rect x="558" y="491" width="3" height="27" fill="#fff" />
<rect x="567" y="483" width="1" height="28" fill="#000" />
<rect x="565" y="487" width="5" height="8" fill="#000" />
<rect x="575" y="490" width="1" height="43" fill="#000" />
<rect x="573" y="493" width="5" height="39" fill="#000" />
<rect x="583" y="438" width="1" height="96" fill="#000" />
<rect x="581" y="438" width="5" height="93" fill="#000" />
<rect x="582" y="439" width="3" height="91" fill="#fff" />
<rect x="591" y="409" width="1" height="50" fill="#000" />
<rect x="589" y="417" width="5" height="22" fill="#000" />
<rect x="590" y="418" width="3" height="20" fill="#fff" />
<rect x="599" y="405" width="1" height="22" fill="#000" />
<rect x="597" y="412" width="5" height="6" fill="#000" />
<rect x="598" y="413" width="3" height="4" fill="#fff" />
<rect x="607" y="410" width="1" height="38" fill="#000" />
<rect x="605" y="411" width="5" height="31" fill="#000" />
<rect x="615" y="423" width="1" height="27" fill="#000" />
<rect x="613" y="439" width="5" height="2" fill="#000" />
<rect x="623" y="407" width="1" height="35" fill="#000" />
<rect x="621" y="411" width="5" height="28" fill="#000" />
<rect x="622" y="412" width="3" height="26" fill="#fff" />
<rect x="631" y="386" width="1" height="44" fill="#000" />
<rect x="629" y="394" width="5" height="18" fill="#000" />
<rect x="630" y="395" width="3" height="16" fill="#fff" />
<rect x="639" y="393" width="1" height="78" fill="#000" />
<rect x="637" y="395" width="5" height="53" fill="#000" />
<rect x="647" y="424" width="1" height="37" fill="#000" />
<rect x="645" y="438" width="5" height="11" fill="#000" />
<rect x="646" y="439" width="3" height="9" fill="#fff" />
<rect x="655" y="416" width="1" height="24" fill="#000" />
<rect x="653" y="420" width="5" height="18" fill="#000" />
<rect x="654" y="421" width="3" height="16" fill="#fff" />
<rect x="663" y="404" width="1" height="17" fill="#000" />
<rect x="661" y="409" width="5" height="12" fill="#000" />
<rect x="662" y="410" width="3" height="10" fill="#fff" />
<rect x="671" y="389" width="1" height="28" fill="#000" />
<rect x="669" y="402" width="5" height="8" fill="#000" />
<rect x="670" y="403" width="3" height="6" fill="#fff" />
<rect x="679" y="392" width="1" height="20" fill="#000" />
<rect x="677" y="393" width="5" height="11" fill="#000" />
<rect x="678" y="394" width="3" height="9" fill="#fff" />
<rect x="687" y="301" width="1" height="116" fill="#000" />
<rect x="685" y="307" width="5" height="87" fill="#000" />
<rect x="686" y="308" width="3" height="85" fill="#fff" />
<rect x="695" y="285" width="1" height="24" fill="#000" />
<rect x="693" y="291" width="5" height="17" fill="#000" />
<rect x="694" y="292" width="3" height="15" fill="#fff" />
<rect x="703" y="283" width="1" height="16" fill="#000" />
<rect x="701" y="291" width="5" height="2" fill="#000" />
<rect x="711" y="280" width="1" height="10" fill="#000" />
<rect x="709" y="283" width="5" height="7" fill="#000" />
<rect x="719" y="290" width="1" height="23" fill="#000" />
<rect x="717" y="290" width="5" height="16" fill="#000" />
<rect x="727" y="289" width="1" height="20" fill="#000" />
<rect x="725" y="292" width="5" height="14" fill="#000" />
<rect x="726" y="293" width="3" height="12" fill="#fff" />
<rect x="735" y="289" width="1" height="26" fill="#000" />
<rect x="733" y="291" width="5" height="18" fill="#000" />
<rect x="743" y="291" width="1" height="19" fill="#000" />
<rect x="741" y="300" width="5" height="9" fill="#000" />
<rect x="742" y="301" width="3" height="7" fill="#fff" />
<rect x="751" y="300" width="1" height="27" fill="#000" />
<rect x="749" y="301" width="5" height="15" fill="#000" />
<rect x="759" y="310" width="1" height="37" fill="#000" />
<rect x="757" y="315" width="5" height="18" fill="#000" />
<rect x="767" y="323" width="1" height="19" fill="#000" />
<rect x="765" y="326" width="5" height="6" fill="#000" />
<rect x="766" y="327" width="3" height="4" fill="#fff" />
<rect x="775" y="324" width="1" height="10" fill="#000" />
<rect x="773" y="326" width="5" height="5" fill="#000" />
<rect x="783" y="329" width="1" height="77" fill="#000" />
<rect x="781" y="330" width="5" height="45" fill="#000" />
<rect x="791" y="314" width="1" height="70" fill="#000" />
<rect x="789" y="320" width="5" height="56" fill="#000" />
<rect x="790" y="321" width="3" height="54" fill="#fff" />
<rect x="799" y="314" width="1" height="35" fill="#000" />
<rect x="797" y="320" width="5" height="8" fill="#000" />
<rect x="807" y="322" width="1" height="31" fill="#000" />
<rect x="805" y="326" width="5" height="12" fill="#000" />
<rect x="815" y="333" width="1" height="18" fill="#000" />
<rect x="813" y="336" width="5" height="2" fill="#000" />
<rect x="823" y="329" width="1" height="16" fill="#000" />
<rect x="821" y="337" width="5" height="4" fill="#000" />
<rect x="831" y="306" width="1" height="48" fill="#000" />
<rect x="829" y="340" width="5" height="2" fill="#000" />
<rect x="839" y="332" width="1" height="39" fill="#000" />
<rect x="837" y="340" width="5" height="22" fill="#000" />
<rect x="847" y="328" width="1" height="47" fill="#000" />
<rect x="845" y="330" width="5" height="33" fill="#000" />
<rect x="846" y="331" width="3" height="31" fill="#fff" />
<rect x="855" y="318" width="1" height="28" fill="#000" />
<rect x="853" y="319" width="5" height="11" fill="#000" />
<rect x="854" y="320" width="3" height="9" fill="#fff" />
<rect x="863" y="315" width="1" height="16" fill="#000" />
<rect x="861" y="319" width="5" height="1" fill="#000" />
<rect x="871" y="315" width="1" height="9" fill="#000" />
<rect x="869" y="319" width="5" height="1" fill="#000" />
<rect x="879" y="303" width="1" height="26" fill="#000" />
<rect x="877" y="318" width="5" height="2" fill="#000" />
<rect x="887" y="208" width="1" height="147" fill="#000" />
<rect x="885" y="235" width="5" height="85" fill="#000" />
<rect x="886" y="236" width="3" height="83" fill="#fff" />
<rect x="895" y="229" width="1" height="82" fill="#000" />
<rect x="893" y="235" width="5" height="19" fill="#000" />
<rect x="903" y="194" width="1" height="69" fill="#000" />
<rect x="901" y="199" width="5" height="55" fill="#000" />
<rect x="902" y="200" width="3" height="53" fill="#fff" />
<rect x="911" y="188" width="1" height="29" fill="#000" />
<rect x="909" y="200" width="5" height="4" fill="#000" />
<rect x="919" y="192" width="1" height="13" fill="#000" />
<rect x="917" y="195" width="5" height="9" fill="#000" />
<rect x="918" y="196" width="3" height="7" fill="#fff" />
<rect x="927" y="181" width="1" height="28" fill="#000" />
<rect x="925" y="196" width="5" height="3" fill="#000" />
<rect x="935" y="181" width="1" height="87" fill="#000" />
<rect x="933" y="199" width="5" height="61" fill="#000" />
<rect x="943" y="232" width="1" height="52" fill="#000" />
<rect x="941" y="239" width="5" height="22" fill="#000" />
<rect x="942" y="240" width="3" height="20" fill="#fff" />
<rect x="951" y="230" width="1" height="15" fill="#000" />
<rect x="949" y="233" width="5" height="6" fill="#000" />
<rect x="950" y="234" width="3" height="4" fill="#fff" />
<rect x="959" y="219" width="1" height="15" fill="#000" />
<rect x="957" y="221" width="5" height="10" fill="#000" />
<rect x="967" y="223" width="1" height="9" fill="#000" />
<rect x="965" y="226" width="5" height="5" fill="#000" />
<rect x="966" y="227" width="3" height="3" fill="#fff" />
<rect x="975" y="222" width="1" height="15" fill="#000" />
<rect x="973" y="225" width="5" height="7" fill="#000" />
<rect x="983" y="208" width="1" height="24" fill="#000" />
<rect x="981" y="217" width="5" height="15" fill="#000" />
<rect x="982" y="218" width="3" height="13" fill="#fff" />
<rect x="991" y="163" width="1" height="59" fill="#000" />
<rect x="989" y="174" width="5" height="44" fill="#000" />
<rect x="990" y="175" width="3" height="42" fill="#fff" />
<rect x="999" y="167" width="1" height="27" fill="#000" />
<rect x="997" y="173" width="5" height="19" fill="#000" />
<rect x="1007" y="188" width="1" height="29" fill="#000" />
<rect x="1005" y="192" width="5" height="25" fill="#000" />
<rect x="1015" y="203" width="1" height="19" fill="#000" />
<rect x="1013" y="204" width="5" height="12" fill="#000" />
<rect x="1014" y="205" width="3" height="10" fill="#fff" />
<rect x="1023" y="190" width="1" height="15" fill="#000" />
<rect x="1021" y="196" width="5" height="9" fill="#000" />
<rect x="1022" y="197" width="3" height="7" fill="#fff" />
<rect x="1031" y="195" width="1" height="36" fill="#000" />
<rect x="1029" y="195" width="5" height="22" fill="#000" />
<rect x="1039" y="176" width="1" height="41" fill="#000" />
<rect x="1037" y="194" width="5" height="23" fill="#000" />
<rect x="1038" y="195" width="3" height="21" fill="#fff" />
<rect x="1047" y="167" width="1" height="28" fill="#000" />
<rect x="1045" y="178" width="5" height="17" fill="#000" />
<rect x="1046" y="179" width="3" height="15" fill="#fff" />
<rect x="1055" y="176" width="1" height="22" fill="#000" />
<rect x="1053" y="179" width="5" height="14" fill="#000" />
<rect x="1063" y="185" width="1" height="11" fill="#000" />
<rect x="1061" y="189" width="5" height="5" fill="#000" />
<rect x="1062" y="190" width="3" height="3" fill="#fff" />
<rect x="1071" y="186" width="1" height="14" fill="#000" />
<rect x="1069" y="188" width="5" height="12" fill="#000" />
<rect x="1079" y="175" width="1" height="23" fill="#000" />
<rect x="1077" y="182" width="5" height="16" fill="#000" />
<rect x="1078" y="183" width="3" height="14" fill="#fff" />
<rect x="1087" y="170" width="1" height="22" fill="#000" />
<rect x="1085" y="178" width="5" height="6" fill="#000" />
<rect x="1086" y="179" width="3" height="4" fill="#fff" />
<rect x="1095" y="171" width="1" height="24" fill="#000" />
<rect x="1093" y="179" width="5" height="2" fill="#000" />
<rect x="1103" y="177" width="1" height="25" fill="#000" />
<rect x="1101" y="180" width="5" height="9" fill="#000" />
<rect x="1111" y="179" width="1" height="20" fill="#000" />
<rect x="1109" y="188" width="5" height="7" fill="#000" />
<rect x="1119" y="189" width="1" height="8" fill="#000" />
<rect x="1117" y="191" width="5" height="4" fill="#000" />
<rect x="1118" y="192" width="3" height="2" fill="#fff" />
<rect x="1127" y="173" width="1" height="25" fill="#000" />
<rect x="1125" y="177" width="5" height="14" fill="#000" />
<rect x="1126" y="178" width="3" height="12" fill="#fff" />
<rect x="1135" y="160" width="1" height="33" fill="#000" />
<rect x="1133" y="165" width="5" height="13" fill="#000" />
<rect x="1134" y="166" width="3" height="11" fill="#fff" />
<rect x="1143" y="144" width="1" height="24" fill="#000" />
<rect x="1141" y="149" width="5" height="16" fill="#000" />
<rect x="1142" y="150" width="3" height="14" fill="#fff" />
<rect x="1151" y="133" width="1" height="29" fill="#000" />
<rect x="1149" y="138" width="5" height="12" fill="#000" />
<rect x="1150" y="139" width="3" height="10" fill="#fff" />
<rect x="1159" y="134" width="1" height="13" fill="#000" />
<rect x="1157" y="137" width="5" height="4" fill="#000" />
<rect x="1167" y="139" width="1" height="12" fill="#000" />
<rect x="1165" y="140" width="5" height="4" fill="#000" />
<rect x="1175" y="127" width="1" height="21" fill="#000" />
<rect x="1173" y="132" width="5" height="12" fill="#000" />
<rect x="1174" y="133" width="3" height="10" fill="#fff" />
<rect x="1183" y="93" width="1" height="46" fill="#000" />
<rect x="1181" y="110" width="5" height="23" fill="#000" />
<rect x="1182" y="111" width="3" height="21" fill="#fff" />
<rect x="1191" y="93" width="1" height="17" fill="#000" />
<rect x="1189" y="96" width="5" height="14" fill="#000" />
<rect x="1190" y="97" width="3" height="12" fill="#fff" />
<rect x="1199" y="95" width="1" height="27" fill="#000" />
<rect x="1197" y="95" width="5" height="16" fill="#000" />
<rect x="1207" y="99" width="1" height="14" fill="#000" />
<rect x="1205" y="101" width="5" height="6" fill="#000" />
<rect x="1206" y="102" width="3" height="4" fill="#fff" />
<rect x="1215" y="101" width="1" height="8" fill="#000" />
<rect x="1213" y="102" width="5" height="3" fill="#000" />
<rect x="1223" y="104" width="1" height="9" fill="#000" />
<rect x="1221" y="105" width="5" height="5" fill="#000" />
<rect x="1231" y="94" width="1" height="17" fill="#000" />
<rect x="1229" y="95" width="5" height="15" fill="#000" />
<rect x="1230" y="96" width="3" height="13" fill="#fff" />
<rect x="1239" y="70" width="1" height="28" fill="#000" />
<rect x="1237" y="73" width="5" height="23" fill="#000" />
<rect x="1238" y="74" width="3" height="21" fill="#fff" />
<rect x="1247" y="71" width="1" height="14" fill="#000" />
<rect x="1245" y="73" width="5" height="5" fill="#000" />
<rect x="1255" y="75" width="1" height="14" fill="#000" />
<rect x="1253" y="77" width="5" height="1" fill="#000" />
<rect x="1263" y="76" width="1" height="10" fill="#000" />
<rect x="1261" y="77" width="5" height="5" fill="#000" />
<rect x="1271" y="75" width="1" height="8" fill="#000" />
<rect x="1269" y="75" width="5" height="7" fill="#000" />
<rect x="1270" y="76" width="3" height="5" fill="#fff" />
<rect x="1279" y="73" width="1" height="9" fill="#000" />
<rect x="1277" y="74" width="5" height="3" fill="#000" />
<rect x="1278" y="75" width="3" height="1" fill="#fff" />
<rect x="1287" y="68" width="1" height="33" fill="#000" />
<rect x="1285" y="75" width="5" height="21" fill="#000" />
<rect x="1295" y="90" width="1" height="14" fill="#000" />
<rect x="1293" y="95" width="5" height="4" fill="#000" />
<rect x="1303" y="93" width="1" height="5" fill="#000" />
<rect x="1301" y="93" width="5" height="4" fill="#000" />
<rect x="1311" y="85" width="1" height="14" fill="#000" />
<rect x="1309" y="86" width="5" height="10" fill="#000" />
<rect x="1310" y="87" width="3" height="8" fill="#fff" />
<rect x="1319" y="83" width="1" height="6" fill="#000" />
<rect x="1317" y="84" width="5" height="3" fill="#000" />
<rect x="1318" y="85" width="3" height="1" fill="#fff" />
<rect x="1327" y="84" width="1" height="7" fill="#000" />
<rect x="1325" y="85" width="5" height="1" fill="#000" />
<rect x="1335" y="76" width="1" height="18" fill="#000" />
<rect x="1333" y="77" width="5" height="9" fill="#000" />
<rect x="1334" y="78" width="3" height="7" fill="#fff" />
<rect x="1343" y="70" width="1" height="16" fill="#000" />
<rect x="1341" y="80" width="5" height="3" fill="#000" />
<rect x="1351" y="54" width="1" height="34" fill="#000" />
<rect x="1349" y="63" width="5" height="19" fill="#000" />
<rect x="1350" y="64" width="3" height="17" fill="#fff" />
<rect x="1357" y="63" width="5" height="1" fill="#000" />
<rect x="1286" y="72" width="91" height="9" fill="#00ff00" />
<polygon points="1368.5,28 1378.5,28 1373.5,33" fill="#c0c0c0" shape-rendering="auto"/>
</g>
<g clip-path="url(#cmacd)">
<g shape-rendering="crispEdges">
<rect x="7" y="594" width="1" height="57" fill="#c0c0c0" />
<rect x="15" y="593" width="1" height="58" fill="#c0c0c0" />
<rect x="23" y="592" width="1" height="59" fill="#c0c0c0" />
<rect x="31" y="591" width="1" height="60" fill="#c0c0c0" />
<rect x="39" y="591" width="1" height="60" fill="#c0c0c0" />
<rect x="47" y="593" width="1" height="58" fill="#c0c0c0" />
<rect x="55" y="603" width="1" height="48" fill="#c0c0c0" />
<rect x="63" y="610" width="1" height="41" fill="#c0c0c0" />
<rect x="71" y="618" width="1" height="33" fill="#c0c0c0" />
<rect x="79" y="625" width="1" height="26" fill="#c0c0c0" />
<rect x="87" y="632" width="1" height="19" fill="#c0c0c0" />
<rect x="95" y="637" width="1" height="14" fill="#c0c0c0" />
<rect x="103" y="642" width="1" height="9" fill="#c0c0c0" />
<rect x="111" y="648" width="1" height="3" fill="#c0c0c0" />
<rect x="119" y="650" width="1" height="3" fill="#c0c0c0" />
<rect x="127" y="650" width="1" height="7" fill="#c0c0c0" />
<rect x="135" y="650" width="1" height="11" fill="#c0c0c0" />
<rect x="143" y="650" width="1" height="11" fill="#c0c0c0" />
<rect x="151" y="650" width="1" height="15" fill="#c0c0c0" />
<rect x="159" y="650" width="1" height="14" fill="#c0c0c0" />
<rect x="167" y="650" width="1" height="16" fill="#c0c0c0" />
<rect x="175" y="650" width="1" height="15" fill="#c0c0c0" />
<rect x="183" y="650" width="1" height="15" fill="#c0c0c0" />
<rect x="191" y="650" width="1" height="14" fill="#c0c0c0" />
<rect x="199" y="650" width="1" height="13" fill="#c0c0c0" />
<rect x="207" y="650" width="1" height="9" fill="#c0c0c0" />
<rect x="215" y="650" width="1" height="5" fill="#c0c0c0" />
<rect x="223" y="650" width="1" height="1" fill="#c0c0c0" />
<rect x="231" y="644" width="1" height="7" fill="#c0c0c0" />
<rect x="239" y="641" width="1" height="10" fill="#c0c0c0" />
<rect x="247" y="638" width="1" height="13" fill="#c0c0c0" />
<rect x="255" y="633" width="1" height="18" fill="#c0c0c0" />
<rect x="263" y="629" width="1" height="22" fill="#c0c0c0" />
<rect x="271" y="624" width="1" height="27" fill="#c0c0c0" />
<rect x="279" y="620" width="1" height="31" fill="#c0c0c0" />
<rect x="287" y="617" width="1" height="34" fill="#c0c0c0" />
<rect x="295" y="616" width="1" height="35" fill="#c0c0c0" />
<rect x="303" y="614" width="1" height="37" fill="#c0c0c0" />
<rect x="311" y="612" width="1" height="39" fill="#c0c0c0" />
<rect x="319" y="610" width="1" height="41" fill="#c0c0c0" />
<rect x="327" y="607" width="1" height="44" fill="#c0c0c0" />
<rect x="335" y="605" width="1" height="46" fill="#c0c0c0" />
<rect x="343" y="605" width="1" height="46" fill="#c0c0c0" />
<rect x="351" y="607" width="1" height="44" fill="#c0c0c0" />
<rect x="359" y="609" width="1" height="42" fill="#c0c0c0" />
<rect x="367" y="611" width="1" height="40" fill="#c0c0c0" />
<rect x="375" y="614" width="1" height="37" fill="#c0c0c0" />
<rect x="383" y="617" width="1" height="34" fill="#c0c0c0" />
<rect x="391" y="620" width="1" height="31" fill="#c0c0c0" />
<rect x="399" y="621" width="1" height="30" fill="#c0c0c0" />
<rect x="407" y="622" width="1" height="29" fill="#c0c0c0" />
<rect x="415" y="623" width="1" height="28" fill="#c0c0c0" />
<rect x="423" y="626" width="1" height="25" fill="#c0c0c0" />
<rect x="431" y="629" width="1" height="22" fill="#c0c0c0" />
<rect x="439" y="630" width="1" height="21" fill="#c0c0c0" />
<rect x="447" y="631" width="1" height="20" fill="#c0c0c0" />
<rect x="455" y="633" width="1" height="18" fill="#c0c0c0" />
<rect x="463" y="633" width="1" height="18" fill="#c0c0c0" />
<rect x="471" y="631" width="1" height="20" fill="#c0c0c0" />
<rect x="479" y="629" width="1" height="22" fill="#c0c0c0" />
<rect x="487" y="631" width="1" height="20" fill="#c0c0c0" />
<rect x="495" y="646" width="1" height="5" fill="#c0c0c0" />
<rect x="503" y="650" width="1" height="5" fill="#c0c0c0" />
<rect x="511" y="650" width="1" height="17" fill="#c0c0c0" />
<rect x="519" y="650" width="1" height="24" fill="#c0c0c0" />
<rect x="527" y="650" width="1" height="30" fill="#c0c0c0" />
<rect x="535" y="650" width="1" height="39" fill="#c0c0c0" />
<rect x="543" y="650" width="1" height="63" fill="#c0c0c0" />
<rect x="551" y="650" width="1" height="76" fill="#c0c0c0" />
<rect x="559" y="650" width="1" height="83" fill="#c0c0c0" />
<rect x="567" y="650" width="1" height="87" fill="#c0c0c0" />
<rect x="575" y="650" width="1" height="94" fill="#c0c0c0" />
<rect x="583" y="650" width="1" height="87" fill="#c0c0c0" />
<rect x="591" y="650" width="1" height="78" fill="#c0c0c0" />
<rect x="599" y="650" width="1" height="70" fill="#c0c0c0" />
<rect x="607" y="650" width="1" height="66" fill="#c0c0c0" />
<rect x="615" y="650" width="1" height="62" fill="#c0c0c0" />
<rect x="623" y="650" width="1" height="54" fill="#c0c0c0" />
<rect x="631" y="650" width="1" height="46" fill="#c0c0c0" />
<rect x="639" y="650" width="1" height="45" fill="#c0c0c0" />
<rect x="647" y="650" width="1" height="43" fill="#c0c0c0" />
<rect x="655" y="650" width="1" height="39" fill="#c0c0c0" />
<rect x="663" y="650" width="1" height="34" fill="#c0c0c0" />
<rect x="671" y="650" width="1" height="28" fill="#c0c0c0" />
<rect x="679" y="650" width="1" height="23" fill="#c0c0c0" />
<rect x="687" y="650" width="1" height="8" fill="#c0c0c0" />
<rect x="695" y="645" width="1" height="6" fill="#c0c0c0" />
<rect x="703" y="634" width="1" height="17" fill="#c0c0c0" />
<rect x="711" y="626" width="1" height="25" fill="#c0c0c0" />
<rect x="719" y="621" width="1" height="30" fill="#c0c0c0" />
<rect x="727" y="617" width="1" height="34" fill="#c0c0c0" />
<rect x="735" y="615" width="1" height="36" fill="#c0c0c0" />
<rect x="743" y="614" width="1" height="37" fill="#c0c0c0" />
<rect x="751" y="615" width="1" height="36" fill="#c0c0c0" />
<rect x="759" y="618" width="1" height="33" fill="#c0c0c0" />
<rect x="767" y="620" width="1" height="31" fill="#c0c0c0" />
<rect x="775" y="623" width="1" height="28" fill="#c0c0c0" />
<rect x="783" y="630" width="1" height="21" fill="#c0c0c0" />
<rect x="791" y="630" width="1" height="21" fill="#c0c0c0" />
<rect x="799" y="631" width="1" height="20" fill="#c0c0c0" />
<rect x="807" y="633" width="1" height="18" fill="#c0c0c0" />
<rect x="815" y="635" width="1" height="16" fill="#c0c0c0" />
<rect x="823" y="637" width="1" height="14" fill="#c0c0c0" />
<rect x="831" y="639" width="1" height="12" fill="#c0c0c0" />
<rect x="839" y="643" width="1" height="8" fill="#c0c0c0" />
<rect x="847" y="642" width="1" height="9" fill="#c0c0c0" />
<rect x="855" y="640" width="1" height="11" fill="#c0c0c0" />
<rect x="863" y="639" width="1" height="12" fill="#c0c0c0" />
<rect x="871" y="639" width="1" height="12" fill="#c0c0c0" />
<rect x="879" y="638" width="1" height="13" fill="#c0c0c0" />
<rect x="887" y="628" width="1" height="23" fill="#c0c0c0" />
<rect x="895" y="622" width="1" height="29" fill="#c0c0c0" />
<rect x="903" y="611" width="1" height="40" fill="#c0c0c0" />
<rect x="911" y="604" width="1" height="47" fill="#c0c0c0" />
<rect x="919" y="598" width="1" height="53" fill="#c0c0c0" />
<rect x="927" y="594" width="1" height="57" fill="#c0c0c0" />
<rect x="935" y="599" width="1" height="52" fill="#c0c0c0" />
<rect x="943" y="601" width="1" height="50" fill="#c0c0c0" />
<rect x="951" y="602" width="1" height="49" fill="#c0c0c0" />
<rect x="959" y="604" width="1" height="47" fill="#c0c0c0" />
<rect x="967" y="605" width="1" height="46" fill="#c0c0c0" />
<rect x="975" y="607" width="1" height="44" fill="#c0c0c0" />
<rect x="983" y="607" width="1" height="44" fill="#c0c0c0" />
<rect x="991" y="603" width="1" height="48" fill="#c0c0c0" />
<rect x="999" y="602" width="1" height="49" fill="#c0c0c0" />
<rect x="1007" y="605" width="1" height="46" fill="#c0c0c0" />
<rect x="1015" y="607" width="1" height="44" fill="#c0c0c0" />
<rect x="1023" y="607" width="1" height="44" fill="#c0c0c0" />
<rect x="1031" y="610" width="1" height="41" fill="#c0c0c0" />
<rect x="1039" y="611" width="1" height="40" fill="#c0c0c0" />
<rect x="1047" y="610" width="1" height="41" fill="#c0c0c0" />
<rect x="1055" y="611" width="1" height="40" fill="#c0c0c0" />
<rect x="1063" y="612" width="1" height="39" fill="#c0c0c0" />
<rect x="1071" y="614" width="1" height="37" fill="#c0c0c0" />
<rect x="1079" y="615" width="1" height="36" fill="#c0c0c0" />
<rect x="1087" y="615" width="1" height="36" fill="#c0c0c0" />
<rect x="1095" y="616" width="1" height="35" fill="#c0c0c0" />
<rect x="1103" y="618" width="1" height="33" fill="#c0c0c0" />
<rect x="1111" y="621" width="1" height="30" fill="#c0c0c0" />
<rect x="1119" y="623" width="1" height="28" fill="#c0c0c0" />
<rect x="1127" y="623" width="1" height="28" fill="#c0c0c0" />
<rect x="1135" y="622" width="1" height="29" fill="#c0c0c0" />
<rect x="1143" y="620" width="1" height="31" fill="#c0c0c0" />
<rect x="1151" y="617" width="1" height="34" fill="#c0c0c0" />
<rect x="1159" y="615" width="1" height="36" fill="#c0c0c0" />
<rect x="1167" y="615" width="1" height="36" fill="#c0c0c0" />
<rect x="1175" y="613" width="1" height="38" fill="#c0c0c0" />
<rect x="1183" y="610" width="1" height="41" fill="#c0c0c0" />
<rect x="1191" y="606" width="1" height="45" fill="#c0c0c0" />
<rect x="1199" y="606" width="1" height="45" fill="#c0c0c0" />
<rect x="1207" y="604" width="1" height="47" fill="#c0c0c0" />
<rect x="1215" y="605" width="1" height="46" fill="#c0c0c0" />
<rect x="1223" y="606" width="1" height="45" fill="#c0c0c0" />
<rect x="1231" y="605" width="1" height="46" fill="#c0c0c0" />
<rect x="1239" y="603" width="1" height="48" fill="#c0c0c0" />
<rect x="1247" y="602" width="1" height="49" fill="#c0c0c0" />
<rect x="1255" y="603" width="1" height="48" fill="#c0c0c0" />
<rect x="1263" y="603" width="1" height="48" fill="#c0c0c0" />
<rect x="1271" y="604" width="1" height="47" fill="#c0c0c0" />
<rect x="1279" y="605" width="1" height="46" fill="#c0c0c0" />
<rect x="1287" y="608" width="1" height="43" fill="#c0c0c0" />
<rect x="1295" y="612" width="1" height="39" fill="#c0c0c0" />
<rect x="1303" y="615" width="1" height="36" fill="#c0c0c0" />
<rect x="1311" y="617" width="1" height="34" fill="#c0c0c0" />
<rect x="1319" y="618" width="1" height="33" fill="#c0c0c0" />
<rect x="1327" y="620" width="1" height="31" fill="#c0c0c0" />
<rect x="1335" y="621" width="1" height="30" fill="#c0c0c0" />
<rect x="1343" y="623" width="1" height="28" fill="#c0c0c0" />
<rect x="1351" y="622" width="1" height="29" fill="#c0c0c0" />
<rect x="1359" y="621" width="1" height="30" fill="#c0c0c0" />
</g>
<path d="M324 618.5h3M426 618.5h3M780 618.5h3M1140 618.5h3M1146 618.5h3M1152 618.5h3M1158 618.5h3M1164 618.5h3M1170 618.5h3M92 610.5h1M349 610.5h2M392 610.5h1M396 610.5h1M943 610.5h2M1074 610.5h3M1212 610.5h2M1326 610.5h2M146 647.5h1M259 647.5h2M522 647.5h2M336 614.5h3M410 614.5h1M936 614.5h1M1112 614.5h1M1196 614.5h1M1200 614.5h1M1338 614.5h3M102 616.5h1M330 616.5h3M420 616.5h1M931 616.5h2M1122 616.5h3M1182 616.5h3M1350 616.5h3M169 659.5h2M228 659.5h3M539 659.5h1M678 693.5h2M36 595.5h3M42 595.5h3M48 595.5h3M54 595.5h2M258 648.5h1M524 648.5h1M728 648.5h1M114 624.5h1M306 624.5h3M451 624.5h2M756 624.5h2M810 624.5h3M918 624.5h1M133 638.5h1M276 638.5h1M739 638.5h1M870 638.5h3M876 638.5h3M882 638.5h3M348 611.5h1M397 611.5h2M942 611.5h1M1080 611.5h3M1086 611.5h1M1206 611.5h3M1328 611.5h1M464 627.5h1M468 627.5h2M752 627.5h1M912 627.5h2M108 620.5h1M318 620.5h3M433 620.5h2M768 620.5h3M792 620.5h3M924 620.5h1M606 728.5h2M618 728.5h3M432 619.5h1M774 619.5h3M786 619.5h3M925 619.5h2M414 615.5h3M1116 615.5h3M1188 615.5h3M1194 615.5h2M1344 615.5h3M1 603.5h2M80 603.5h1M961 603.5h2M1002 603.5h3M1254 603.5h3M1260 603.5h3M1266 603.5h3M1272 603.5h3M1278 603.5h3M1284 603.5h3M1290 603.5h3M132 637.5h1M277 637.5h2M506 637.5h1M740 637.5h1M860 637.5h1M864 637.5h3M888 637.5h3M894 637.5h1M144 646.5h2M86 606.5h1M1038 606.5h3M1044 606.5h3M1050 606.5h3M1232 606.5h1M1236 606.5h2M1308 606.5h3M180 662.5h1M216 662.5h3M714 662.5h1M97 613.5h2M408 613.5h2M937 613.5h2M1110 613.5h2M1201 613.5h2M1334 613.5h1M312 622.5h3M444 622.5h3M762 622.5h2M800 622.5h1M920 622.5h1M84 605.5h2M954 605.5h3M1014 605.5h3M1020 605.5h3M1026 605.5h3M1032 605.5h3M1238 605.5h1M1242 605.5h1M1302 605.5h3M126 633.5h1M498 633.5h2M744 633.5h1M841 633.5h2M559 684.5h1M690 684.5h2M949 607.5h2M1056 607.5h3M1062 607.5h1M1226 607.5h1M1230 607.5h2M1314 607.5h3M78 602.5h2M966 602.5h2M996 602.5h3M90 608.5h1M360 608.5h3M366 608.5h3M372 608.5h3M378 608.5h3M948 608.5h1M1063 608.5h2M1220 608.5h1M1224 608.5h2M1320 608.5h2M103 617.5h2M421 617.5h2M930 617.5h1M1128 617.5h3M1134 617.5h3M1176 617.5h3M1356 617.5h3M156 653.5h2M246 653.5h3M534 653.5h1M0 604.5h1M960 604.5h1M1008 604.5h3M1243 604.5h2M1248 604.5h3M1296 604.5h3M7 600.5h2M74 600.5h1M972 600.5h3M978 600.5h3M120 629.5h2M294 629.5h1M480 629.5h3M750 629.5h1M824 629.5h1M109 621.5h2M438 621.5h3M764 621.5h1M798 621.5h2M96 612.5h1M342 612.5h3M402 612.5h3M1087 612.5h2M1092 612.5h3M1098 612.5h3M1104 612.5h3M1332 612.5h2M579 709.5h1M550 673.5h1M703 673.5h1M12 599.5h1M72 599.5h2M91 609.5h1M354 609.5h3M384 609.5h3M390 609.5h2M1068 609.5h3M1214 609.5h1M1218 609.5h2M1322 609.5h1M6 601.5h1M968 601.5h1M984 601.5h3M990 601.5h3M192 664.5h3M198 664.5h3M204 664.5h3M210 664.5h2M608 729.5h1M612 729.5h3M116 626.5h1M300 626.5h3M462 626.5h2M817 626.5h2M914 626.5h1M24 596.5h3M30 596.5h3M56 596.5h1M60 596.5h3M66 596.5h2M127 634.5h2M283 634.5h2M500 634.5h1M846 634.5h3M901 634.5h2M139 643.5h2M516 643.5h2M733 643.5h1M265 644.5h2M518 644.5h1M732 644.5h1M18 597.5h3M68 597.5h1M122 630.5h1M486 630.5h3M828 630.5h3M908 630.5h1M543 665.5h1M572 701.5h1M241 655.5h2M536 655.5h1M721 655.5h1M295 628.5h2M470 628.5h1M474 628.5h3M751 628.5h1M822 628.5h2M162 656.5h2M240 656.5h1M720 656.5h1M288 632.5h1M493 632.5h2M745 632.5h2M836 632.5h1M840 632.5h1M151 650.5h1M253 650.5h2M528 650.5h2M726 650.5h1M181 663.5h2M186 663.5h3M212 663.5h1M450 623.5h1M758 623.5h1M804 623.5h3M919 623.5h1M708 668.5h1M134 639.5h1M510 639.5h2M738 639.5h1M584 715.5h1M643 715.5h2M272 640.5h1M512 640.5h1M504 636.5h2M854 636.5h1M858 636.5h2M895 636.5h2M577 707.5h1M655 707.5h1M553 677.5h1M698 677.5h1M568 696.5h1M672 696.5h2M563 690.5h1M564 691.5h1M595 723.5h2M630 723.5h1M174 661.5h3M222 661.5h2M540 661.5h1M715 661.5h1M589 720.5h2M264 645.5h1M594 722.5h1M631 722.5h2M600 725.5h1M625 725.5h2M168 658.5h1M234 658.5h2M150 649.5h1M727 649.5h1M649 711.5h1M574 703.5h1M661 703.5h1M282 635.5h1M852 635.5h2M900 635.5h1M555 679.5h1M696 679.5h1M289 631.5h2M492 631.5h1M834 631.5h2M906 631.5h2M685 688.5h1M573 702.5h1M662 702.5h1M544 666.5h1M710 666.5h1M138 642.5h1M734 642.5h1M164 657.5h1M236 657.5h1M115 625.5h1M456 625.5h3M816 625.5h1M158 654.5h1M535 654.5h1M722 654.5h1M224 660.5h1M539 660.5h1M716 660.5h1M152 651.5h1M252 651.5h1M530 651.5h1M270 641.5h2M667 699.5h1M554 678.5h1M697 678.5h1M583 714.5h1M13 598.5h2M648 712.5h1M601 726.5h2M624 726.5h1M583 713.5h1M702 674.5h1M588 719.5h1M636 719.5h2M545 667.5h1M709 667.5h1M567 695.5h1M674 695.5h1M642 716.5h1M578 708.5h1M654 708.5h1M666 700.5h1M549 672.5h1M704 672.5h1M638 718.5h1M650 710.5h1M548 671.5h1M680 692.5h1M562 689.5h1M684 689.5h1M559 685.5h1M660 704.5h1M558 683.5h1M692 683.5h1M569 697.5h1M656 706.5h1M668 698.5h1M686 687.5h1" stroke="#ff0000" stroke-width="1" fill="none" shape-rendering="crispEdges"/>
</g>
<g clip-path="url(#crsi)" shape-rendering="crispEdges">
<line x1="0" y1="790.5" x2="1618" y2="790.5" stroke="#c0c0c0" stroke-width="1" stroke-dasharray="3 3"/>
<line x1="0" y1="841.5" x2="1618" y2="841.5" stroke="#c0c0c0" stroke-width="1" stroke-dasharray="3 3"/>
<line x1="0" y1="902.5" x2="1618" y2="902.5" stroke="#c0c0c0" stroke-width="1" stroke-dasharray="3 3"/>
<path d="M682.5 832v3M488.5 832v6M47.5 804v3M48.5 807v4M363.5 817v3M582.5 856v3M54.5 835v4M539.5 885v3M928.5 809v3M491.5 849v6M50.5 816v5M487.5 829v3M493.5 860v6M882.5 822v3M53.5 830v5M49.5 811v5M881.5 825v3M930.5 815v3M933.5 825v3M884.5 816v3M494.5 866v6M932.5 822v3M684.5 827v3M576.5 875v3M489.5 838v6M579.5 865v4M929.5 812v3M51.5 821v4M581.5 859v3M492.5 855v5M934.5 828v3M52.5 825v5M883.5 819v3M578.5 869v3M490.5 844v5M886.5 810v3M931.5 818v4M580.5 862v3M885.5 813v3M55.5 839v3M880.5 828v3M577.5 872v3M495.5 872v3M221 825.5h1M366 825.5h1M394 825.5h2M419 825.5h1M464 825.5h1M480 825.5h2M685 825.5h1M733 825.5h2M737 825.5h4M744 825.5h2M949 825.5h6M973 825.5h3M1005 825.5h1M1014 825.5h3M1025 825.5h1M1040 825.5h2M1053 825.5h2M1059 825.5h5M1079 825.5h2M1096 825.5h2M1126 825.5h1M1291 825.5h3M1297 825.5h4M251 817.5h2M470 817.5h1M472 817.5h1M986 817.5h1M998 817.5h1M1139 817.5h1M1284 817.5h1M1331 817.5h3M1337 817.5h2M1344 817.5h1M508 875.5h1M513 875.5h1M533 875.5h1M558 875.5h1M563 875.5h5M213 832.5h3M423 832.5h2M434 832.5h1M451 832.5h1M459 832.5h1M755 832.5h1M877 832.5h3M935 832.5h1M1031 832.5h1M1110 832.5h5M2 805.5h1M41 805.5h4M273 805.5h4M281 805.5h4M305 805.5h4M345 805.5h1M1181 805.5h1M1195 805.5h1M1235 805.5h2M1251 805.5h6M108 857.5h1M138 857.5h1M148 857.5h1M153 857.5h1M167 857.5h1M68 844.5h1M200 844.5h1M626 844.5h2M632 844.5h1M662 844.5h3M780 844.5h1M786 844.5h1M835 844.5h1M842 844.5h1M6 812.5h1M9 812.5h4M17 812.5h4M24 812.5h2M261 812.5h3M349 812.5h1M355 812.5h2M360 812.5h1M891 812.5h1M898 812.5h1M990 812.5h1M992 812.5h1M1147 812.5h3M1155 812.5h6M1171 812.5h3M1220 812.5h2M1224 812.5h2M1282 812.5h1M1348 812.5h1M217 829.5h1M382 829.5h3M421 829.5h1M437 829.5h1M448 829.5h1M461 829.5h1M751 829.5h1M939 829.5h2M1028 829.5h1M1035 829.5h1M1069 829.5h2M1072 829.5h2M1104 829.5h2M1121 829.5h1M207 834.5h2M427 834.5h3M432 834.5h1M452 834.5h1M457 834.5h1M757 834.5h2M763 834.5h8M791 834.5h3M854 834.5h19M225 821.5h4M235 821.5h13M364 821.5h1M405 821.5h4M416 821.5h1M467 821.5h1M476 821.5h1M687 821.5h2M715 821.5h2M723 821.5h3M728 821.5h1M982 821.5h2M1001 821.5h1M1047 821.5h1M1132 821.5h2M1286 821.5h1M1308 821.5h2M222 823.5h1M365 823.5h1M398 823.5h3M417 823.5h1M465 823.5h1M478 823.5h1M686 823.5h1M719 823.5h2M731 823.5h1M963 823.5h6M978 823.5h2M1003 823.5h1M1021 823.5h3M1043 823.5h2M1050 823.5h1M1085 823.5h6M1128 823.5h2M1287 823.5h2M1304 823.5h2M106 854.5h1M140 854.5h1M146 854.5h1M155 854.5h1M164 854.5h1M169 854.5h1M583 854.5h1M606 854.5h1M609 854.5h4M107 855.5h1M140 855.5h1M147 855.5h1M155 855.5h1M165 855.5h1M168 855.5h1M583 855.5h1M607 855.5h2M220 826.5h1M367 826.5h1M371 826.5h6M392 826.5h2M419 826.5h1M463 826.5h1M482 826.5h1M685 826.5h1M735 826.5h2M746 826.5h1M945 826.5h4M1005 826.5h1M1011 826.5h3M1026 826.5h1M1039 826.5h1M1055 826.5h4M1064 826.5h2M1077 826.5h2M1098 826.5h2M1125 826.5h1M1294 826.5h3M111 861.5h2M125 861.5h4M136 861.5h1M151 861.5h1M4 808.5h1M33 808.5h2M268 808.5h1M290 808.5h2M298 808.5h2M347 808.5h1M887 808.5h1M901 808.5h1M909 808.5h4M927 808.5h1M1178 808.5h1M1197 808.5h1M1206 808.5h5M1232 808.5h1M1262 808.5h3M1280 808.5h1M1351 808.5h9M218 828.5h1M379 828.5h3M385 828.5h4M421 828.5h1M438 828.5h1M443 828.5h5M462 828.5h1M485 828.5h2M749 828.5h2M941 828.5h2M1007 828.5h2M1027 828.5h1M1036 828.5h1M1067 828.5h2M1074 828.5h1M1102 828.5h2M1122 828.5h1M70 846.5h1M175 846.5h2M195 846.5h5M623 846.5h1M634 846.5h1M657 846.5h2M781 846.5h1M785 846.5h1M837 846.5h1M840 846.5h1M5 810.5h1M28 810.5h2M265 810.5h2M294 810.5h2M348 810.5h1M358 810.5h2M889 810.5h1M900 810.5h1M1176 810.5h1M1198 810.5h1M1201 810.5h2M1216 810.5h2M1228 810.5h2M1281 810.5h1M1350 810.5h1M250 818.5h1M469 818.5h1M473 818.5h1M694 818.5h18M985 818.5h1M999 818.5h1M1137 818.5h2M1285 818.5h1M1317 818.5h6M1329 818.5h2M1339 818.5h3M1344 818.5h1M255 814.5h2M350 814.5h1M353 814.5h1M361 814.5h1M893 814.5h1M897 814.5h1M989 814.5h1M994 814.5h1M1143 814.5h2M1165 814.5h4M1283 814.5h1M1347 814.5h1M3 807.5h1M35 807.5h3M269 807.5h2M288 807.5h2M300 807.5h2M346 807.5h1M902 807.5h1M905 807.5h4M913 807.5h4M923 807.5h5M1179 807.5h1M1196 807.5h1M1233 807.5h1M1259 807.5h3M1265 807.5h4M1279 807.5h1M57 840.5h4M64 840.5h1M203 840.5h1M677 840.5h3M778 840.5h1M788 840.5h1M806 840.5h26M845 840.5h1M223 822.5h2M365 822.5h1M401 822.5h4M417 822.5h1M466 822.5h1M477 822.5h1M687 822.5h1M717 822.5h2M721 822.5h2M729 822.5h2M980 822.5h2M1002 822.5h1M1045 822.5h2M1048 822.5h2M1130 822.5h2M1287 822.5h1M1306 822.5h2M71 847.5h4M174 847.5h1M177 847.5h4M187 847.5h8M622 847.5h1M635 847.5h1M654 847.5h3M781 847.5h1M784 847.5h1M838 847.5h1M840 847.5h1M221 824.5h1M366 824.5h1M396 824.5h2M418 824.5h1M465 824.5h1M479 824.5h1M686 824.5h1M732 824.5h1M741 824.5h3M955 824.5h8M969 824.5h4M976 824.5h2M1004 824.5h1M1017 824.5h4M1024 824.5h1M1042 824.5h1M1051 824.5h2M1081 824.5h4M1091 824.5h5M1127 824.5h1M1289 824.5h2M1301 824.5h3M209 833.5h4M425 833.5h2M433 833.5h1M451 833.5h1M458 833.5h1M756 833.5h1M791 833.5h1M873 833.5h4M67 843.5h1M201 843.5h1M628 843.5h2M632 843.5h1M665 843.5h4M779 843.5h1M786 843.5h1M834 843.5h1M843 843.5h1M7 813.5h2M21 813.5h3M257 813.5h4M349 813.5h1M354 813.5h1M361 813.5h1M892 813.5h1M897 813.5h1M989 813.5h1M993 813.5h1M1145 813.5h2M1161 813.5h4M1169 813.5h2M1222 813.5h2M1282 813.5h1M1347 813.5h1M3 806.5h1M38 806.5h3M271 806.5h2M285 806.5h3M302 806.5h3M346 806.5h1M903 806.5h2M917 806.5h6M1180 806.5h1M1196 806.5h1M1234 806.5h1M1257 806.5h2M1269 806.5h11M543 894.5h2M507 874.5h1M514 874.5h1M532 874.5h1M559 874.5h4M89 851.5h4M97 851.5h4M104 851.5h1M142 851.5h1M144 851.5h1M157 851.5h1M162 851.5h1M171 851.5h1M588 851.5h2M602 851.5h1M617 851.5h1M638 851.5h1M645 851.5h3M206 835.5h1M430 835.5h2M453 835.5h1M456 835.5h1M681 835.5h1M759 835.5h4M771 835.5h5M790 835.5h1M794 835.5h2M851 835.5h3M229 820.5h6M248 820.5h1M364 820.5h1M409 820.5h4M416 820.5h1M468 820.5h1M475 820.5h1M689 820.5h2M714 820.5h1M726 820.5h2M984 820.5h1M1001 820.5h1M1134 820.5h2M1286 820.5h1M1310 820.5h3M75 848.5h6M159 848.5h1M174 848.5h1M181 848.5h6M597 848.5h3M621 848.5h1M635 848.5h1M652 848.5h2M782 848.5h1M784 848.5h1M839 848.5h1M536 880.5h1M554 880.5h1M81 849.5h4M143 849.5h1M158 849.5h1M160 849.5h1M173 849.5h1M593 849.5h4M600 849.5h1M619 849.5h2M636 849.5h1M650 849.5h2M782 849.5h2M1 804.5h1M45 804.5h2M277 804.5h4M309 804.5h4M345 804.5h1M1182 804.5h1M1194 804.5h1M1237 804.5h1M1245 804.5h6M6 811.5h1M13 811.5h4M26 811.5h2M264 811.5h1M348 811.5h1M357 811.5h1M360 811.5h1M890 811.5h1M899 811.5h1M991 811.5h1M1150 811.5h5M1174 811.5h2M1199 811.5h2M1218 811.5h2M1226 811.5h2M1281 811.5h1M1349 811.5h1M109 858.5h1M138 858.5h1M149 858.5h1M153 858.5h1M204 838.5h1M680 838.5h1M777 838.5h1M789 838.5h1M801 838.5h2M846 838.5h1M66 842.5h1M202 842.5h1M630 842.5h2M669 842.5h4M779 842.5h1M787 842.5h1M833 842.5h1M843 842.5h1M5 809.5h1M30 809.5h3M267 809.5h1M292 809.5h2M296 809.5h2M347 809.5h1M359 809.5h1M887 809.5h2M901 809.5h1M1177 809.5h1M1198 809.5h1M1203 809.5h3M1211 809.5h5M1230 809.5h2M1280 809.5h1M1350 809.5h1M61 839.5h3M204 839.5h1M679 839.5h1M777 839.5h1M788 839.5h1M803 839.5h3M846 839.5h1M219 827.5h1M367 827.5h4M377 827.5h2M389 827.5h3M420 827.5h1M439 827.5h4M462 827.5h1M483 827.5h2M747 827.5h2M943 827.5h2M1006 827.5h1M1009 827.5h2M1027 827.5h1M1037 827.5h2M1066 827.5h1M1075 827.5h2M1100 827.5h2M1123 827.5h2M249 819.5h1M413 819.5h3M469 819.5h1M474 819.5h1M691 819.5h3M712 819.5h2M985 819.5h1M1000 819.5h1M1136 819.5h1M1285 819.5h1M1313 819.5h4M1323 819.5h6M1342 819.5h2M85 850.5h4M101 850.5h3M142 850.5h1M144 850.5h1M158 850.5h1M161 850.5h1M172 850.5h1M590 850.5h3M601 850.5h1M618 850.5h1M637 850.5h1M648 850.5h2M783 850.5h1M217 830.5h1M422 830.5h1M436 830.5h1M449 830.5h1M460 830.5h1M683 830.5h1M752 830.5h1M938 830.5h1M1029 830.5h1M1033 830.5h2M1071 830.5h1M1106 830.5h2M1120 830.5h1M254 815.5h1M350 815.5h1M352 815.5h1M362 815.5h1M894 815.5h1M896 815.5h1M988 815.5h1M995 815.5h2M1141 815.5h2M1283 815.5h1M1346 815.5h1M93 852.5h4M104 852.5h1M141 852.5h1M145 852.5h1M157 852.5h1M163 852.5h1M171 852.5h1M586 852.5h2M603 852.5h2M616 852.5h1M638 852.5h1M641 852.5h4M519 866.5h2M110 860.5h1M137 860.5h1M150 860.5h1M152 860.5h1M509 876.5h1M512 876.5h1M534 876.5h1M557 876.5h1M568 876.5h2M496 873.5h2M506 873.5h1M514 873.5h1M531 873.5h1M253 816.5h1M351 816.5h1M362 816.5h1M471 816.5h1M895 816.5h1M987 816.5h1M997 816.5h1M1140 816.5h1M1284 816.5h1M1334 816.5h3M1345 816.5h1M206 836.5h1M454 836.5h1M456 836.5h1M681 836.5h1M776 836.5h1M790 836.5h1M796 836.5h2M849 836.5h2M537 882.5h1M552 882.5h1M538 883.5h1M551 883.5h1M105 853.5h1M141 853.5h1M146 853.5h1M156 853.5h1M163 853.5h1M170 853.5h1M584 853.5h2M605 853.5h1M613 853.5h3M639 853.5h2M69 845.5h1M200 845.5h1M624 845.5h2M633 845.5h1M659 845.5h3M780 845.5h1M785 845.5h1M836 845.5h1M841 845.5h1M56 841.5h1M65 841.5h1M202 841.5h1M673 841.5h4M778 841.5h1M787 841.5h1M832 841.5h1M844 841.5h1M326 797.5h5M336 797.5h2M205 837.5h1M455 837.5h1M680 837.5h1M776 837.5h1M789 837.5h1M798 837.5h3M847 837.5h2M0 801.5h1M318 801.5h2M343 801.5h1M1186 801.5h2M1192 801.5h1M-1 800.5h1M320 800.5h2M341 800.5h2M1188 800.5h2M1192 800.5h1M107 856.5h1M139 856.5h1M148 856.5h1M154 856.5h1M166 856.5h1M168 856.5h1M540 889.5h1M547 889.5h1M536 879.5h1M555 879.5h1M574 879.5h2M113 862.5h4M121 862.5h4M129 862.5h4M136 862.5h1M110 859.5h1M137 859.5h1M150 859.5h1M152 859.5h1M517 869.5h1M526 869.5h2M500 871.5h2M504 871.5h1M516 871.5h1M529 871.5h1M498 872.5h2M505 872.5h1M515 872.5h1M530 872.5h1M216 831.5h1M422 831.5h1M435 831.5h1M450 831.5h1M459 831.5h1M683 831.5h1M753 831.5h2M879 831.5h1M935 831.5h3M1030 831.5h1M1032 831.5h1M1108 831.5h2M1115 831.5h5M540 888.5h1M548 888.5h1M0 802.5h1M315 802.5h3M344 802.5h1M1184 802.5h2M1193 802.5h1M1239 802.5h2M511 878.5h1M535 878.5h1M555 878.5h1M572 878.5h2M575 878.5h1M502 870.5h2M516 870.5h1M528 870.5h1M322 799.5h2M339 799.5h2M1190 799.5h2M1 803.5h1M313 803.5h2M344 803.5h1M1183 803.5h1M1194 803.5h1M1238 803.5h1M1241 803.5h4M510 877.5h1M512 877.5h1M535 877.5h1M556 877.5h1M570 877.5h2M324 798.5h2M338 798.5h1M538 884.5h1M550 884.5h1M537 881.5h1M553 881.5h1M548 887.5h1M117 863.5h4M133 863.5h3M541 890.5h1M546 890.5h1M518 868.5h1M523 868.5h3M331 796.5h5M550 885.5h1M542 893.5h1M544 893.5h1M518 867.5h1M521 867.5h2M541 891.5h1M546 891.5h1M549 886.5h1M542 892.5h1M545 892.5h1M543 895.5h1" stroke="#1e90ff" stroke-width="1" fill="none" />
</g>
<g shape-rendering="crispEdges">
<rect x="1619" y="49" width="2" height="1" fill="#000" />
<rect x="1619" y="82" width="2" height="1" fill="#000" />
<rect x="1619" y="115" width="2" height="1" fill="#000" />
<rect x="1619" y="148" width="2" height="1" fill="#000" />
<rect x="1619" y="181" width="2" height="1" fill="#000" />
<rect x="1619" y="214" width="2" height="1" fill="#000" />
<rect x="1619" y="247" width="2" height="1" fill="#000" />
<rect x="1619" y="280" width="2" height="1" fill="#000" />
<rect x="1619" y="313" width="2" height="1" fill="#000" />
<rect x="1619" y="346" width="2" height="1" fill="#000" />
<rect x="1619" y="379" width="2" height="1" fill="#000" />
<rect x="1619" y="412" width="2" height="1" fill="#000" />
<rect x="1619" y="445" width="2" height="1" fill="#000" />
<rect x="1619" y="478" width="2" height="1" fill="#000" />
<rect x="1619" y="511" width="2" height="1" fill="#000" />
<rect x="1619" y="544" width="2" height="1" fill="#000" />
<rect x="1619" y="577" width="2" height="1" fill="#000" />
<rect x="1619" y="584" width="1" height="1" fill="#000" />
<rect x="1619" y="650" width="1" height="1" fill="#000" />
<rect x="1619" y="751" width="1" height="1" fill="#000" />
<rect x="1619" y="756" width="1" height="1" fill="#000" />
<rect x="1619" y="927" width="1" height="1" fill="#000" />
<rect x="63" y="928" width="1" height="4" fill="#000" />
<rect x="127" y="928" width="1" height="4" fill="#000" />
<rect x="191" y="928" width="1" height="4" fill="#000" />
<rect x="255" y="928" width="1" height="4" fill="#000" />
<rect x="319" y="928" width="1" height="4" fill="#000" />
<rect x="383" y="928" width="1" height="4" fill="#000" />
<rect x="447" y="928" width="1" height="4" fill="#000" />
<rect x="511" y="928" width="1" height="4" fill="#000" />
<rect x="575" y="928" width="1" height="4" fill="#000" />
<rect x="639" y="928" width="1" height="4" fill="#000" />
<rect x="703" y="928" width="1" height="4" fill="#000" />
<rect x="767" y="928" width="1" height="4" fill="#000" />
<rect x="831" y="928" width="1" height="4" fill="#000" />
<rect x="895" y="928" width="1" height="4" fill="#000" />
<rect x="959" y="928" width="1" height="4" fill="#000" />
<rect x="1023" y="928" width="1" height="4" fill="#000" />
<rect x="1087" y="928" width="1" height="4" fill="#000" />
<rect x="1151" y="928" width="1" height="4" fill="#000" />
<rect x="1215" y="928" width="1" height="4" fill="#000" />
<rect x="1279" y="928" width="1" height="4" fill="#000" />
<rect x="1343" y="928" width="1" height="4" fill="#000" />
</g>
<text x="1624" y="53" font-family="Liberation Sans, sans-serif" font-size="9.4" fill="#000" text-anchor="start" textLength="33.3" lengthAdjust="spacingAndGlyphs">28634.5</text>
<text x="1624" y="86" font-family="Liberation Sans, sans-serif" font-size="9.4" fill="#000" text-anchor="start" textLength="33.3" lengthAdjust="spacingAndGlyphs">28549.5</text>
<text x="1624" y="119" font-family="Liberation Sans, sans-serif" font-size="9.4" fill="#000" text-anchor="start" textLength="33.3" lengthAdjust="spacingAndGlyphs">28464.5</text>
<text x="1624" y="152" font-family="Liberation Sans, sans-serif" font-size="9.4" fill="#000" text-anchor="start" textLength="33.3" lengthAdjust="spacingAndGlyphs">28379.5</text>
<text x="1624" y="185" font-family="Liberation Sans, sans-serif" font-size="9.4" fill="#000" text-anchor="start" textLength="33.3" lengthAdjust="spacingAndGlyphs">28297.0</text>
<text x="1624" y="218" font-family="Liberation Sans, sans-serif" font-size="9.4" fill="#000" text-anchor="start" textLength="33.3" lengthAdjust="spacingAndGlyphs">28212.0</text>
<text x="1624" y="251" font-family="Liberation Sans, sans-serif" font-size="9.4" fill="#000" text-anchor="start" textLength="33.3" lengthAdjust="spacingAndGlyphs">28127.0</text>
<text x="1624" y="284" font-family="Liberation Sans, sans-serif" font-size="9.4" fill="#000" text-anchor="start" textLength="33.3" lengthAdjust="spacingAndGlyphs">28042.0</text>
<text x="1624" y="317" font-family="Liberation Sans, sans-serif" font-size="9.4" fill="#000" text-anchor="start" textLength="33.3" lengthAdjust="spacingAndGlyphs">27959.5</text>
<text x="1624" y="350" font-family="Liberation Sans, sans-serif" font-size="9.4" fill="#000" text-anchor="start" textLength="33.3" lengthAdjust="spacingAndGlyphs">27874.5</text>
<text x="1624" y="383" font-family="Liberation Sans, sans-serif" font-size="9.4" fill="#000" text-anchor="start" textLength="33.3" lengthAdjust="spacingAndGlyphs">27789.5</text>
<text x="1624" y="416" font-family="Liberation Sans, sans-serif" font-size="9.4" fill="#000" text-anchor="start" textLength="33.3" lengthAdjust="spacingAndGlyphs">27704.5</text>
<text x="1624" y="449" font-family="Liberation Sans, sans-serif" font-size="9.4" fill="#000" text-anchor="start" textLength="33.3" lengthAdjust="spacingAndGlyphs">27622.0</text>
<text x="1624" y="482" font-family="Liberation Sans, sans-serif" font-size="9.4" fill="#000" text-anchor="start" textLength="33.3" lengthAdjust="spacingAndGlyphs">27537.0</text>
<text x="1624" y="515" font-family="Liberation Sans, sans-serif" font-size="9.4" fill="#000" text-anchor="start" textLength="33.3" lengthAdjust="spacingAndGlyphs">27452.0</text>
<text x="1624" y="548" font-family="Liberation Sans, sans-serif" font-size="9.4" fill="#000" text-anchor="start" textLength="33.3" lengthAdjust="spacingAndGlyphs">27367.0</text>
<text x="1624" y="581" font-family="Liberation Sans, sans-serif" font-size="9.4" fill="#000" text-anchor="start" textLength="33.3" lengthAdjust="spacingAndGlyphs">27284.5</text>
<text x="1622" y="593" font-family="Liberation Sans, sans-serif" font-size="9.4" fill="#000" text-anchor="start" >112.17</text>
<text x="1622" y="654" font-family="Liberation Sans, sans-serif" font-size="9.4" fill="#000" text-anchor="start" >0.00</text>
<text x="1622" y="749" font-family="Liberation Sans, sans-serif" font-size="9.4" fill="#000" text-anchor="start" >-170.97</text>
<text x="1622" y="765" font-family="Liberation Sans, sans-serif" font-size="9.4" fill="#000" text-anchor="start" >100</text>
<text x="1622" y="794" font-family="Liberation Sans, sans-serif" font-size="9.4" fill="#000" text-anchor="start" >80</text>
<text x="1622" y="845" font-family="Liberation Sans, sans-serif" font-size="9.4" fill="#000" text-anchor="start" >50</text>
<text x="1622" y="906" font-family="Liberation Sans, sans-serif" font-size="9.4" fill="#000" text-anchor="start" >15</text>
<text x="1622" y="925" font-family="Liberation Sans, sans-serif" font-size="9.4" fill="#000" text-anchor="start" >0</text>
<g shape-rendering="crispEdges">
<rect x="1620" y="27" width="41" height="22" fill="#ff0000" />
<rect x="1620" y="58" width="41" height="11" fill="#000" />
<rect x="1620" y="72" width="41" height="11" fill="#32cd32" />
<rect x="1620" y="90" width="41" height="11" fill="#0000ff" />
<rect x="1620" y="104" width="41" height="11" fill="#0000ff" />
</g>
<text x="1624" y="35.7" font-family="Liberation Sans, sans-serif" font-size="9.4" fill="#fff" text-anchor="start" textLength="33.3" lengthAdjust="spacingAndGlyphs">28673.2</text>
<text x="1624" y="46.7" font-family="Liberation Sans, sans-serif" font-size="9.4" fill="#fff" text-anchor="start" textLength="33.3" lengthAdjust="spacingAndGlyphs">28645.2</text>
<text x="1624" y="66.7" font-family="Liberation Sans, sans-serif" font-size="9.4" fill="#fff" text-anchor="start" textLength="33.3" lengthAdjust="spacingAndGlyphs">28598.0</text>
<text x="1624" y="80.7" font-family="Liberation Sans, sans-serif" font-size="9.4" fill="#fff" text-anchor="start" textLength="33.3" lengthAdjust="spacingAndGlyphs">28558.4</text>
<text x="1624" y="98.7" font-family="Liberation Sans, sans-serif" font-size="9.4" fill="#fff" text-anchor="start" textLength="33.3" lengthAdjust="spacingAndGlyphs">28512.4</text>
<text x="1624" y="112.7" font-family="Liberation Sans, sans-serif" font-size="9.4" fill="#fff" text-anchor="start" textLength="33.3" lengthAdjust="spacingAndGlyphs">28476.7</text>
<text x="-2" y="941" font-family="Liberation Sans, sans-serif" font-size="9.6" fill="#000" text-anchor="start" >18 Nov 2019</text>
<text x="62" y="941" font-family="Liberation Sans, sans-serif" font-size="9.6" fill="#000" text-anchor="start" textLength="57.8" lengthAdjust="spacingAndGlyphs">19 Nov 16:00</text>
<text x="126" y="941" font-family="Liberation Sans, sans-serif" font-size="9.6" fill="#000" text-anchor="start" textLength="57.8" lengthAdjust="spacingAndGlyphs">21 Nov 00:00</text>
<text x="190" y="941" font-family="Liberation Sans, sans-serif" font-size="9.6" fill="#000" text-anchor="start" textLength="57.8" lengthAdjust="spacingAndGlyphs">22 Nov 08:00</text>
<text x="254" y="941" font-family="Liberation Sans, sans-serif" font-size="9.6" fill="#000" text-anchor="start" textLength="57.8" lengthAdjust="spacingAndGlyphs">25 Nov 12:00</text>
<text x="318" y="941" font-family="Liberation Sans, sans-serif" font-size="9.6" fill="#000" text-anchor="start" textLength="57.8" lengthAdjust="spacingAndGlyphs">26 Nov 20:00</text>
<text x="382" y="941" font-family="Liberation Sans, sans-serif" font-size="9.6" fill="#000" text-anchor="start" textLength="57.8" lengthAdjust="spacingAndGlyphs">28 Nov 04:00</text>
<text x="446" y="941" font-family="Liberation Sans, sans-serif" font-size="9.6" fill="#000" text-anchor="start" textLength="57.8" lengthAdjust="spacingAndGlyphs">29 Nov 12:00</text>
<text x="510" y="941" font-family="Liberation Sans, sans-serif" font-size="9.6" fill="#000" text-anchor="start" textLength="50.2" lengthAdjust="spacingAndGlyphs">2 Dec 20:00</text>
<text x="574" y="941" font-family="Liberation Sans, sans-serif" font-size="9.6" fill="#000" text-anchor="start" textLength="50.2" lengthAdjust="spacingAndGlyphs">4 Dec 04:00</text>
<text x="638" y="941" font-family="Liberation Sans, sans-serif" font-size="9.6" fill="#000" text-anchor="start" textLength="50.2" lengthAdjust="spacingAndGlyphs">5 Dec 12:00</text>
<text x="702" y="941" font-family="Liberation Sans, sans-serif" font-size="9.6" fill="#000" text-anchor="start" textLength="50.2" lengthAdjust="spacingAndGlyphs">6 Dec 20:00</text>
<text x="766" y="941" font-family="Liberation Sans, sans-serif" font-size="9.6" fill="#000" text-anchor="start" textLength="54.9" lengthAdjust="spacingAndGlyphs">10 Dec 00:00</text>
<text x="830" y="941" font-family="Liberation Sans, sans-serif" font-size="9.6" fill="#000" text-anchor="start" textLength="54.9" lengthAdjust="spacingAndGlyphs">11 Dec 08:00</text>
<text x="894" y="941" font-family="Liberation Sans, sans-serif" font-size="9.6" fill="#000" text-anchor="start" textLength="54.9" lengthAdjust="spacingAndGlyphs">12 Dec 16:00</text>
<text x="958" y="941" font-family="Liberation Sans, sans-serif" font-size="9.6" fill="#000" text-anchor="start" textLength="54.9" lengthAdjust="spacingAndGlyphs">15 Dec 23:00</text>
<text x="1022" y="941" font-family="Liberation Sans, sans-serif" font-size="9.6" fill="#000" text-anchor="start" textLength="54.9" lengthAdjust="spacingAndGlyphs">17 Dec 04:00</text>
<text x="1086" y="941" font-family="Liberation Sans, sans-serif" font-size="9.6" fill="#000" text-anchor="start" textLength="54.9" lengthAdjust="spacingAndGlyphs">18 Dec 12:00</text>
<text x="1150" y="941" font-family="Liberation Sans, sans-serif" font-size="9.6" fill="#000" text-anchor="start" textLength="54.9" lengthAdjust="spacingAndGlyphs">19 Dec 20:00</text>
<text x="1214" y="941" font-family="Liberation Sans, sans-serif" font-size="9.6" fill="#000" text-anchor="start" textLength="54.9" lengthAdjust="spacingAndGlyphs">23 Dec 00:00</text>
<text x="1278" y="941" font-family="Liberation Sans, sans-serif" font-size="9.6" fill="#000" text-anchor="start" textLength="54.9" lengthAdjust="spacingAndGlyphs">24 Dec 08:00</text>
<text x="1342" y="941" font-family="Liberation Sans, sans-serif" font-size="9.6" fill="#000" text-anchor="start" textLength="54.9" lengthAdjust="spacingAndGlyphs">26 Dec 16:00</text>
<text x="14" y="38.8" font-family="Liberation Sans, sans-serif" font-size="9.4" fill="#000" text-anchor="start" xml:space="preserve" textLength="186.3" lengthAdjust="spacingAndGlyphs">DJ30-,H4&#160;&#160;28598.0 28598.0 28598.0 28598.0</text>
<polygon points="2.3,38.8 8.8,38.8 5.5,34.4" fill="#000"/>
<text x="3.4" y="595" font-family="Liberation Sans, sans-serif" font-size="9.4" fill="#000" text-anchor="start" textLength="118.3" lengthAdjust="spacingAndGlyphs">MACD(12,26,9) 50.17 54.26</text>
<text x="3" y="767" font-family="Liberation Sans, sans-serif" font-size="9.4" fill="#000" text-anchor="start" >RSI(14) 69.4794</text>
<defs><linearGradient id="gp" gradientUnits="userSpaceOnUse" x1="0" y1="47" x2="0" y2="111"><stop offset="0" stop-color="#fc5454"/><stop offset="0.36" stop-color="#e43636"/><stop offset="0.39" stop-color="#e03030"/><stop offset="1" stop-color="#ae0000"/></linearGradient><linearGradient id="gb2" x1="0" y1="0" x2="0" y2="1"><stop offset="0" stop-color="#f6f6f6"/><stop offset="0.45" stop-color="#e4e4e4"/><stop offset="0.5" stop-color="#d4d4d4"/><stop offset="1" stop-color="#c4c4c4"/></linearGradient></defs>
<g shape-rendering="crispEdges">
<rect x="0" y="45" width="223" height="67" fill="#fff"/>
<path d="M2 47 H54 V71 H111 V111 H2 Z" fill="url(#gp)"/>
<path d="M169 47 H221 V111 H113 V71 H169 Z" fill="url(#gp)"/>
<path d="M2.5 111 V47.5 H53.5 V71.5 H110.5 V111" fill="none" stroke="#b40000" stroke-width="1"/>
<path d="M113.5 111 V71.5 H169.5 V47.5 H220.5 V111" fill="none" stroke="#b40000" stroke-width="1"/>
<rect x="6" y="70" width="44" height="1" fill="#8c0000"/><rect x="6" y="71" width="44" height="1" fill="#ff7474"/>
<rect x="173" y="70" width="44" height="1" fill="#8c0000"/><rect x="173" y="71" width="44" height="1" fill="#ff7474"/>
<rect x="56" y="47" width="111" height="22" fill="#c4c8d0"/><rect x="57" y="48" width="109" height="20" fill="#fff"/>
<rect x="57" y="48" width="20" height="20" fill="url(#gb2)"/><rect x="146" y="48" width="20" height="20" fill="url(#gb2)"/>
<rect x="77" y="48" width="1" height="20" fill="#b8bcc4"/><rect x="145" y="48" width="1" height="20" fill="#b8bcc4"/>
</g>
<polygon points="64,56 70,56 67,59.5" fill="#3a5ac0"/><polygon points="153,59.5 159,59.5 156,56" fill="#3a5ac0"/>
<text x="142" y="62.5" font-family="Liberation Sans, sans-serif" font-size="12" fill="#101010" text-anchor="end">1.00</text>
<text x="14" y="63" font-family="Liberation Sans, sans-serif" font-size="12.8" fill="#fff" textLength="26.4" lengthAdjust="spacingAndGlyphs">SELL</text>
<text x="182.2" y="63" font-family="Liberation Sans, sans-serif" font-size="12.8" fill="#fff" textLength="23.6" lengthAdjust="spacingAndGlyphs">BUY</text>
<text x="18" y="101.7" font-family="Liberation Sans, sans-serif" font-size="12.6" font-weight="bold" fill="#fff" textLength="35" lengthAdjust="spacingAndGlyphs">28596</text>
<text x="55" y="101.7" font-family="Liberation Sans, sans-serif" font-size="33.5" fill="#fff" textLength="25" lengthAdjust="spacingAndGlyphs">.5</text>
<text x="128.3" y="101.7" font-family="Liberation Sans, sans-serif" font-size="12.6" font-weight="bold" fill="#fff" textLength="35" lengthAdjust="spacingAndGlyphs">28605</text>
<text x="166" y="101.7" font-family="Liberation Sans, sans-serif" font-size="33.5" fill="#fff" textLength="25" lengthAdjust="spacingAndGlyphs">.5</text>
</svg>
</body></html>
